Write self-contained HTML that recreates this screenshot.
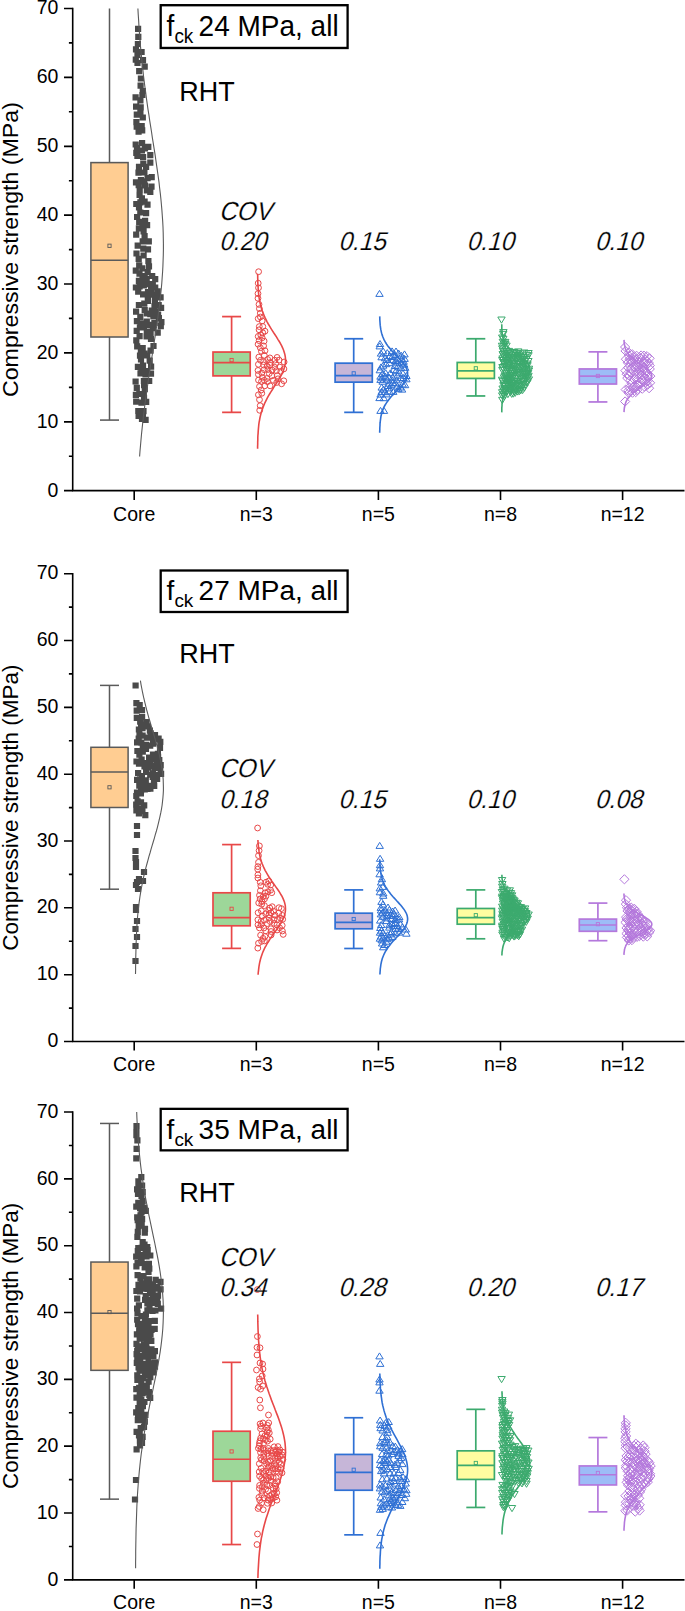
<!DOCTYPE html><html><head><meta charset="utf-8"><style>html,body{margin:0;padding:0;background:#fff;}svg{display:block;}</style></head><body>
<svg width="685" height="1611" viewBox="0 0 685 1611">
<rect width="685" height="1611" fill="#fff"/>
<g transform="translate(0 8.50) scale(1 1.03076)">
<g stroke="#5a5a5a" stroke-width="1.5" fill="none">
<path d="M109.5 149.5V0M109.5 318.7V399.3"/>
<path d="M100 399.3h19"/>
<rect x="90.9" y="149.5" width="37.2" height="169.2" fill="#FFCD92"/>
<path d="M90.9 244.2h37.2"/>
<rect x="107.9" y="228.6" width="3.2" height="3.2" stroke-width="0.9"/>
</g>
<g stroke="#E84848" stroke-width="1.7" fill="none">
<path d="M231.6 333.3V298.9M231.6 356.5V391.8"/>
<path d="M222.1 298.9h19"/>
<path d="M222.1 391.8h19"/>
<rect x="213" y="333.3" width="37.2" height="23.1" fill="#9DD799"/>
<path d="M213 343.6h37.2"/>
<rect x="230" y="339.5" width="3.2" height="3.2" stroke-width="0.9"/>
</g>
<g stroke="#2F70D4" stroke-width="1.7" fill="none">
<path d="M353.7 344.1V320.4M353.7 362.6V391.8"/>
<path d="M344.2 320.4h19"/>
<path d="M344.2 391.8h19"/>
<rect x="335.1" y="344.1" width="37.2" height="18.4" fill="#C6B6D8"/>
<path d="M335.1 356.1h37.2"/>
<rect x="352.1" y="352.4" width="3.2" height="3.2" stroke-width="0.9"/>
</g>
<g stroke="#3CAA6E" stroke-width="1.7" fill="none">
<path d="M475.8 343.4V320.4M475.8 358.9V375.9"/>
<path d="M466.3 320.4h19"/>
<path d="M466.3 375.9h19"/>
<rect x="457.2" y="343.4" width="37.2" height="15.5" fill="#FFFDA0"/>
<path d="M457.2 351.5h37.2"/>
<rect x="474.2" y="347.5" width="3.2" height="3.2" stroke-width="0.9"/>
</g>
<g stroke="#B478DC" stroke-width="1.7" fill="none">
<path d="M597.9 349.7V333.1M597.9 364.2V381.7"/>
<path d="M588.4 333.1h19"/>
<path d="M588.4 381.7h19"/>
<rect x="579.3" y="349.7" width="37.2" height="14.6" fill="#9DBCF7"/>
<path d="M579.3 356.7h37.2"/>
<rect x="596.3" y="354.9" width="3.2" height="3.2" stroke-width="0.9"/>
</g>
<g stroke="#000" stroke-width="1.6" fill="none">
<path d="M72.7 -0.8V467.8M71.9 467.8H684.5"/>
<path d="M64 467.8H72.7M64 401H72.7M64 334.1H72.7M64 267.3H72.7M64 200.5H72.7M64 133.7H72.7M64 66.8H72.7M64 0H72.7M68.9 434.4H72.7M68.9 367.6H72.7M68.9 300.7H72.7M68.9 233.9H72.7M68.9 167.1H72.7M68.9 100.2H72.7M68.9 33.4H72.7M134.2 467.8v9M256.3 467.8v9M378.4 467.8v9M500.5 467.8v9M622.6 467.8v9"/>
</g>
<g font-family="Liberation Sans" font-size="19.5" fill="#000">
<text x="58.4" y="473.5" text-anchor="end">0</text>
<text x="58.4" y="406.7" text-anchor="end">10</text>
<text x="58.4" y="339.8" text-anchor="end">20</text>
<text x="58.4" y="273" text-anchor="end">30</text>
<text x="58.4" y="206.2" text-anchor="end">40</text>
<text x="58.4" y="139.4" text-anchor="end">50</text>
<text x="58.4" y="72.5" text-anchor="end">60</text>
<text x="58.4" y="5.7" text-anchor="end">70</text>
<text x="134.2" y="497.4" text-anchor="middle">Core</text>
<text x="256.3" y="497.4" text-anchor="middle">n=3</text>
<text x="378.4" y="497.4" text-anchor="middle">n=5</text>
<text x="500.5" y="497.4" text-anchor="middle">n=8</text>
<text x="622.6" y="497.4" text-anchor="middle">n=12</text>
</g>
<text transform="translate(17.6 233.9) rotate(-90)" font-family="Liberation Sans" font-size="22.5" text-anchor="middle">Compressive strength (MPa)</text>
<rect x="160.7" y="-3.2" width="186.9" height="41.5" fill="none" stroke="#000" stroke-width="2.3"/>
<text font-family="Liberation Sans" font-size="28" x="166.6" y="26.6">f<tspan font-size="19" dy="7">ck</tspan><tspan dy="-7" x="198.6">24 MPa, all</tspan></text>
<text font-family="Liberation Sans" font-size="27" x="179.2" y="89.7">RHT</text>
</g>
<path fill="#4a4a4a" d="M141.5 232.9h6.2v6.2h-6.2zM155.6 302.1h6.2v6.2h-6.2zM143.8 310.4h6.2v6.2h-6.2zM136.6 186.8h6.2v6.2h-6.2zM152.1 284.4h6.2v6.2h-6.2zM141.5 198.5h6.2v6.2h-6.2zM132.7 56.6h6.2v6.2h-6.2zM133.9 145h6.2v6.2h-6.2zM145.6 321.7h6.2v6.2h-6.2zM147.5 330.9h6.2v6.2h-6.2zM139.9 57.1h6.2v6.2h-6.2zM144.8 297.7h6.2v6.2h-6.2zM135.2 33.8h6.2v6.2h-6.2zM139.6 238.2h6.2v6.2h-6.2zM133.6 123.5h6.2v6.2h-6.2zM136.2 390.9h6.2v6.2h-6.2zM141.2 300.5h6.2v6.2h-6.2zM144.7 293.9h6.2v6.2h-6.2zM134 213.9h6.2v6.2h-6.2zM148.6 174h6.2v6.2h-6.2zM149.1 272.9h6.2v6.2h-6.2zM137.4 370.3h6.2v6.2h-6.2zM132.8 391.8h6.2v6.2h-6.2zM133.2 200.9h6.2v6.2h-6.2zM152.1 276h6.2v6.2h-6.2zM133.6 327.7h6.2v6.2h-6.2zM141.7 386h6.2v6.2h-6.2zM141.6 307.1h6.2v6.2h-6.2zM136.1 68.1h6.2v6.2h-6.2zM137.5 320.2h6.2v6.2h-6.2zM141.6 63.5h6.2v6.2h-6.2zM151.3 319.9h6.2v6.2h-6.2zM133.1 398.6h6.2v6.2h-6.2zM147.2 311.1h6.2v6.2h-6.2zM140 154.1h6.2v6.2h-6.2zM138.9 415.9h6.2v6.2h-6.2zM142.5 416.7h6.2v6.2h-6.2zM157.5 294.2h6.2v6.2h-6.2zM135.9 204.4h6.2v6.2h-6.2zM137.3 109.5h6.2v6.2h-6.2zM136.1 262.3h6.2v6.2h-6.2zM144.6 268.9h6.2v6.2h-6.2zM146.1 377.9h6.2v6.2h-6.2zM153.5 291.8h6.2v6.2h-6.2zM139.6 345h6.2v6.2h-6.2zM144.4 201.5h6.2v6.2h-6.2zM137.8 348.3h6.2v6.2h-6.2zM138.8 195.2h6.2v6.2h-6.2zM134.4 59.9h6.2v6.2h-6.2zM133.1 231.6h6.2v6.2h-6.2zM140.2 245.5h6.2v6.2h-6.2zM139.3 91.9h6.2v6.2h-6.2zM149.8 325.1h6.2v6.2h-6.2zM135.9 163.8h6.2v6.2h-6.2zM139.4 276.6h6.2v6.2h-6.2zM149.2 291.5h6.2v6.2h-6.2zM145.7 238.3h6.2v6.2h-6.2zM143.8 187.3h6.2v6.2h-6.2zM140.8 324.4h6.2v6.2h-6.2zM135.8 277.8h6.2v6.2h-6.2zM133.8 318h6.2v6.2h-6.2zM143 163.7h6.2v6.2h-6.2zM138.8 147.4h6.2v6.2h-6.2zM147.9 370.6h6.2v6.2h-6.2zM134.1 343.3h6.2v6.2h-6.2zM158 304.7h6.2v6.2h-6.2zM141.1 178.2h6.2v6.2h-6.2zM145.2 143.8h6.2v6.2h-6.2zM132.9 179.2h6.2v6.2h-6.2zM143.9 367.9h6.2v6.2h-6.2zM140.7 282.2h6.2v6.2h-6.2zM140 291.3h6.2v6.2h-6.2zM144.9 289.1h6.2v6.2h-6.2zM133 308.6h6.2v6.2h-6.2zM138.4 366.8h6.2v6.2h-6.2zM136.1 218.7h6.2v6.2h-6.2zM132.6 141.4h6.2v6.2h-6.2zM143.5 333.3h6.2v6.2h-6.2zM136.5 333h6.2v6.2h-6.2zM136.5 191.8h6.2v6.2h-6.2zM137.5 82.6h6.2v6.2h-6.2zM157.7 323.1h6.2v6.2h-6.2zM145.9 263.2h6.2v6.2h-6.2zM133.2 149.7h6.2v6.2h-6.2zM136.5 283.2h6.2v6.2h-6.2zM133.4 250.4h6.2v6.2h-6.2zM152 308.4h6.2v6.2h-6.2zM137.3 199.3h6.2v6.2h-6.2zM145.3 258h6.2v6.2h-6.2zM137.6 104.3h6.2v6.2h-6.2zM143.6 275.8h6.2v6.2h-6.2zM139 140.1h6.2v6.2h-6.2zM148.4 183.5h6.2v6.2h-6.2zM148 284.2h6.2v6.2h-6.2zM133.3 119h6.2v6.2h-6.2zM139.7 87.9h6.2v6.2h-6.2zM135.2 407.9h6.2v6.2h-6.2zM139.2 265.3h6.2v6.2h-6.2zM146.6 357.6h6.2v6.2h-6.2zM135.5 412.8h6.2v6.2h-6.2zM141.9 145.2h6.2v6.2h-6.2zM138.4 399.5h6.2v6.2h-6.2zM141.3 169.4h6.2v6.2h-6.2zM139.8 411.7h6.2v6.2h-6.2zM143.1 398.7h6.2v6.2h-6.2zM138.5 48.9h6.2v6.2h-6.2zM139.1 127.2h6.2v6.2h-6.2zM144.1 352.4h6.2v6.2h-6.2zM149.7 281h6.2v6.2h-6.2zM135.6 255.7h6.2v6.2h-6.2zM135.8 225.3h6.2v6.2h-6.2zM141.2 350.4h6.2v6.2h-6.2zM155 311.6h6.2v6.2h-6.2zM141.6 273h6.2v6.2h-6.2zM134.8 40.9h6.2v6.2h-6.2zM144 222.1h6.2v6.2h-6.2zM143.7 318.6h6.2v6.2h-6.2zM158.3 319.1h6.2v6.2h-6.2zM140.9 394.8h6.2v6.2h-6.2zM133.2 337.2h6.2v6.2h-6.2zM137.3 97.2h6.2v6.2h-6.2zM140.8 377.9h6.2v6.2h-6.2zM155.8 315h6.2v6.2h-6.2zM136.8 324.4h6.2v6.2h-6.2zM135.1 288.6h6.2v6.2h-6.2zM140.7 390.9h6.2v6.2h-6.2zM132.5 94.2h6.2v6.2h-6.2zM140.2 160.8h6.2v6.2h-6.2zM140.5 228.3h6.2v6.2h-6.2zM147.2 159.6h6.2v6.2h-6.2zM136.4 270.5h6.2v6.2h-6.2zM135.6 182.1h6.2v6.2h-6.2zM148.2 288.2h6.2v6.2h-6.2zM139.3 222.7h6.2v6.2h-6.2zM147.5 347.6h6.2v6.2h-6.2zM137.2 209.4h6.2v6.2h-6.2zM137.8 177h6.2v6.2h-6.2zM135.5 128.5h6.2v6.2h-6.2zM148 363.6h6.2v6.2h-6.2zM141 382.1h6.2v6.2h-6.2zM150.4 342.9h6.2v6.2h-6.2zM143.7 328.5h6.2v6.2h-6.2zM132.9 46.2h6.2v6.2h-6.2zM136.9 352.6h6.2v6.2h-6.2zM140.4 408h6.2v6.2h-6.2zM142 217.8h6.2v6.2h-6.2zM133 103.6h6.2v6.2h-6.2zM137.2 313.8h6.2v6.2h-6.2zM139.9 362.4h6.2v6.2h-6.2zM138.6 122.9h6.2v6.2h-6.2zM144.9 246.3h6.2v6.2h-6.2zM134.8 363.8h6.2v6.2h-6.2zM133.7 384.8h6.2v6.2h-6.2zM132.5 378.4h6.2v6.2h-6.2zM135.4 169.5h6.2v6.2h-6.2zM137.8 75.4h6.2v6.2h-6.2zM145.3 281.1h6.2v6.2h-6.2zM134.4 51.8h6.2v6.2h-6.2zM144.5 175h6.2v6.2h-6.2zM147.2 152h6.2v6.2h-6.2zM134.6 242.5h6.2v6.2h-6.2zM154.6 288.2h6.2v6.2h-6.2zM147.2 188.7h6.2v6.2h-6.2zM141.9 182.4h6.2v6.2h-6.2zM134.3 152.9h6.2v6.2h-6.2zM132.8 284.4h6.2v6.2h-6.2zM135.8 301.9h6.2v6.2h-6.2zM132.7 267.6h6.2v6.2h-6.2zM133.7 111.6h6.2v6.2h-6.2zM148.7 307.4h6.2v6.2h-6.2zM137.9 356.3h6.2v6.2h-6.2zM140.5 252.4h6.2v6.2h-6.2zM143 210.1h6.2v6.2h-6.2zM154.6 329.6h6.2v6.2h-6.2zM147.9 335.9h6.2v6.2h-6.2zM150.3 313.2h6.2v6.2h-6.2zM151.8 297.7h6.2v6.2h-6.2zM142.4 371.3h6.2v6.2h-6.2zM151.4 302.9h6.2v6.2h-6.2zM139.7 114.4h6.2v6.2h-6.2zM135 25.7h6.2v6.2h-6.2z"/>
<path fill="none" stroke="#E84848" stroke-width="1" d="M267 357.9a2.9 2.9 0 1 0 5.8 0a2.9 2.9 0 1 0 -5.8 0M255.5 364.3a2.9 2.9 0 1 0 5.8 0a2.9 2.9 0 1 0 -5.8 0M274.2 357.4a2.9 2.9 0 1 0 5.8 0a2.9 2.9 0 1 0 -5.8 0M260.7 345.9a2.9 2.9 0 1 0 5.8 0a2.9 2.9 0 1 0 -5.8 0M261.9 385.8a2.9 2.9 0 1 0 5.8 0a2.9 2.9 0 1 0 -5.8 0M257.5 317a2.9 2.9 0 1 0 5.8 0a2.9 2.9 0 1 0 -5.8 0M258.5 351.3a2.9 2.9 0 1 0 5.8 0a2.9 2.9 0 1 0 -5.8 0M261.4 380.3a2.9 2.9 0 1 0 5.8 0a2.9 2.9 0 1 0 -5.8 0M256.6 399.7a2.9 2.9 0 1 0 5.8 0a2.9 2.9 0 1 0 -5.8 0M255.5 394.8a2.9 2.9 0 1 0 5.8 0a2.9 2.9 0 1 0 -5.8 0M276.9 367.1a2.9 2.9 0 1 0 5.8 0a2.9 2.9 0 1 0 -5.8 0M280.9 380.8a2.9 2.9 0 1 0 5.8 0a2.9 2.9 0 1 0 -5.8 0M260.8 361.6a2.9 2.9 0 1 0 5.8 0a2.9 2.9 0 1 0 -5.8 0M275.1 378.8a2.9 2.9 0 1 0 5.8 0a2.9 2.9 0 1 0 -5.8 0M256.1 304.4a2.9 2.9 0 1 0 5.8 0a2.9 2.9 0 1 0 -5.8 0M255.3 336.4a2.9 2.9 0 1 0 5.8 0a2.9 2.9 0 1 0 -5.8 0M256.2 329.8a2.9 2.9 0 1 0 5.8 0a2.9 2.9 0 1 0 -5.8 0M256.5 308.7a2.9 2.9 0 1 0 5.8 0a2.9 2.9 0 1 0 -5.8 0M256.2 340.6a2.9 2.9 0 1 0 5.8 0a2.9 2.9 0 1 0 -5.8 0M271.8 360.2a2.9 2.9 0 1 0 5.8 0a2.9 2.9 0 1 0 -5.8 0M266.4 373.5a2.9 2.9 0 1 0 5.8 0a2.9 2.9 0 1 0 -5.8 0M274.4 375.6a2.9 2.9 0 1 0 5.8 0a2.9 2.9 0 1 0 -5.8 0M255.3 318.6a2.9 2.9 0 1 0 5.8 0a2.9 2.9 0 1 0 -5.8 0M257.6 360.3a2.9 2.9 0 1 0 5.8 0a2.9 2.9 0 1 0 -5.8 0M278.7 383.8a2.9 2.9 0 1 0 5.8 0a2.9 2.9 0 1 0 -5.8 0M257.4 347.7a2.9 2.9 0 1 0 5.8 0a2.9 2.9 0 1 0 -5.8 0M264.8 359.5a2.9 2.9 0 1 0 5.8 0a2.9 2.9 0 1 0 -5.8 0M262.1 350.7a2.9 2.9 0 1 0 5.8 0a2.9 2.9 0 1 0 -5.8 0M264.3 366.2a2.9 2.9 0 1 0 5.8 0a2.9 2.9 0 1 0 -5.8 0M255.1 293.6a2.9 2.9 0 1 0 5.8 0a2.9 2.9 0 1 0 -5.8 0M281 368.9a2.9 2.9 0 1 0 5.8 0a2.9 2.9 0 1 0 -5.8 0M270.5 380.3a2.9 2.9 0 1 0 5.8 0a2.9 2.9 0 1 0 -5.8 0M271.8 367.3a2.9 2.9 0 1 0 5.8 0a2.9 2.9 0 1 0 -5.8 0M261.3 369.7a2.9 2.9 0 1 0 5.8 0a2.9 2.9 0 1 0 -5.8 0M267.2 385.8a2.9 2.9 0 1 0 5.8 0a2.9 2.9 0 1 0 -5.8 0M257.4 313.2a2.9 2.9 0 1 0 5.8 0a2.9 2.9 0 1 0 -5.8 0M267 365.1a2.9 2.9 0 1 0 5.8 0a2.9 2.9 0 1 0 -5.8 0M256.8 410.3a2.9 2.9 0 1 0 5.8 0a2.9 2.9 0 1 0 -5.8 0M262.1 331.2a2.9 2.9 0 1 0 5.8 0a2.9 2.9 0 1 0 -5.8 0M265.1 369.5a2.9 2.9 0 1 0 5.8 0a2.9 2.9 0 1 0 -5.8 0M267.4 362.5a2.9 2.9 0 1 0 5.8 0a2.9 2.9 0 1 0 -5.8 0M259.9 326.5a2.9 2.9 0 1 0 5.8 0a2.9 2.9 0 1 0 -5.8 0M259.9 332.8a2.9 2.9 0 1 0 5.8 0a2.9 2.9 0 1 0 -5.8 0M255.9 357.1a2.9 2.9 0 1 0 5.8 0a2.9 2.9 0 1 0 -5.8 0M256.4 326.6a2.9 2.9 0 1 0 5.8 0a2.9 2.9 0 1 0 -5.8 0M264 378.5a2.9 2.9 0 1 0 5.8 0a2.9 2.9 0 1 0 -5.8 0M258.9 373a2.9 2.9 0 1 0 5.8 0a2.9 2.9 0 1 0 -5.8 0M269 375.9a2.9 2.9 0 1 0 5.8 0a2.9 2.9 0 1 0 -5.8 0M261.2 341.1a2.9 2.9 0 1 0 5.8 0a2.9 2.9 0 1 0 -5.8 0M255.3 283.2a2.9 2.9 0 1 0 5.8 0a2.9 2.9 0 1 0 -5.8 0M276.2 360.1a2.9 2.9 0 1 0 5.8 0a2.9 2.9 0 1 0 -5.8 0M256.6 386.5a2.9 2.9 0 1 0 5.8 0a2.9 2.9 0 1 0 -5.8 0M255.6 380.1a2.9 2.9 0 1 0 5.8 0a2.9 2.9 0 1 0 -5.8 0M260.7 365a2.9 2.9 0 1 0 5.8 0a2.9 2.9 0 1 0 -5.8 0M273.5 370.7a2.9 2.9 0 1 0 5.8 0a2.9 2.9 0 1 0 -5.8 0M255.6 287.8a2.9 2.9 0 1 0 5.8 0a2.9 2.9 0 1 0 -5.8 0M277.9 371.3a2.9 2.9 0 1 0 5.8 0a2.9 2.9 0 1 0 -5.8 0M264.6 381.7a2.9 2.9 0 1 0 5.8 0a2.9 2.9 0 1 0 -5.8 0M259.5 377.3a2.9 2.9 0 1 0 5.8 0a2.9 2.9 0 1 0 -5.8 0M259.3 320.9a2.9 2.9 0 1 0 5.8 0a2.9 2.9 0 1 0 -5.8 0M257.9 335a2.9 2.9 0 1 0 5.8 0a2.9 2.9 0 1 0 -5.8 0M258.3 390a2.9 2.9 0 1 0 5.8 0a2.9 2.9 0 1 0 -5.8 0M258.9 393.3a2.9 2.9 0 1 0 5.8 0a2.9 2.9 0 1 0 -5.8 0M269.2 370.1a2.9 2.9 0 1 0 5.8 0a2.9 2.9 0 1 0 -5.8 0M281.2 362a2.9 2.9 0 1 0 5.8 0a2.9 2.9 0 1 0 -5.8 0M273.8 382.5a2.9 2.9 0 1 0 5.8 0a2.9 2.9 0 1 0 -5.8 0M255.1 298.3a2.9 2.9 0 1 0 5.8 0a2.9 2.9 0 1 0 -5.8 0M272.7 363.6a2.9 2.9 0 1 0 5.8 0a2.9 2.9 0 1 0 -5.8 0M259.3 337.8a2.9 2.9 0 1 0 5.8 0a2.9 2.9 0 1 0 -5.8 0M255.1 370.4a2.9 2.9 0 1 0 5.8 0a2.9 2.9 0 1 0 -5.8 0M255.2 344.2a2.9 2.9 0 1 0 5.8 0a2.9 2.9 0 1 0 -5.8 0M255.5 374.5a2.9 2.9 0 1 0 5.8 0a2.9 2.9 0 1 0 -5.8 0M261.4 355.3a2.9 2.9 0 1 0 5.8 0a2.9 2.9 0 1 0 -5.8 0M257.3 405.7a2.9 2.9 0 1 0 5.8 0a2.9 2.9 0 1 0 -5.8 0M255.7 271.7a2.9 2.9 0 1 0 5.8 0a2.9 2.9 0 1 0 -5.8 0M258.6 381.5a2.9 2.9 0 1 0 5.8 0a2.9 2.9 0 1 0 -5.8 0"/>
<path fill="none" stroke="#2F70D4" stroke-width="1" d="M394.9 362.5l3.7 6h-7.4zM391.4 381.7l3.7 6h-7.4zM392.8 379.6l3.7 6h-7.4zM404.2 361.2l3.7 6h-7.4zM390.3 369.8l3.7 6h-7.4zM386.5 390.9l3.7 6h-7.4zM389.1 384.9l3.7 6h-7.4zM386.8 376.1l3.7 6h-7.4zM385 354.8l3.7 6h-7.4zM393.2 388.4l3.7 6h-7.4zM395.6 357.5l3.7 6h-7.4zM383.6 386l3.7 6h-7.4zM397.4 372.2l3.7 6h-7.4zM405.2 364.3l3.7 6h-7.4zM400.4 384l3.7 6h-7.4zM385.7 369.7l3.7 6h-7.4zM393 356.7l3.7 6h-7.4zM382.4 374.8l3.7 6h-7.4zM396.7 376.8l3.7 6h-7.4zM380.6 391.1l3.7 6h-7.4zM383.2 362.2l3.7 6h-7.4zM403.6 374.5l3.7 6h-7.4zM402.9 370.1l3.7 6h-7.4zM395.3 379.8l3.7 6h-7.4zM392.7 374l3.7 6h-7.4zM402.6 380.9l3.7 6h-7.4zM393.7 366.4l3.7 6h-7.4zM384 407.4l3.7 6h-7.4zM401 364.3l3.7 6h-7.4zM381.6 353.8l3.7 6h-7.4zM402.1 386.1l3.7 6h-7.4zM379.5 394.6l3.7 6h-7.4zM380.5 376.4l3.7 6h-7.4zM405.1 381.7l3.7 6h-7.4zM382.6 370.3l3.7 6h-7.4zM392.1 347.9l3.7 6h-7.4zM403.6 358.2l3.7 6h-7.4zM398.3 385.7l3.7 6h-7.4zM395.2 351.6l3.7 6h-7.4zM387.3 349.6l3.7 6h-7.4zM401.5 356.1l3.7 6h-7.4zM386.1 360.7l3.7 6h-7.4zM380.5 407.4l3.7 6h-7.4zM383.2 347.9l3.7 6h-7.4zM400.5 374.8l3.7 6h-7.4zM385.4 373.1l3.7 6h-7.4zM397.4 355.8l3.7 6h-7.4zM398.6 350l3.7 6h-7.4zM381 363.9l3.7 6h-7.4zM406.4 375.8l3.7 6h-7.4zM381.7 384.1l3.7 6h-7.4zM397.5 359.1l3.7 6h-7.4zM389.3 359.7l3.7 6h-7.4zM389.4 388.1l3.7 6h-7.4zM401.4 359.9l3.7 6h-7.4zM383.8 394.7l3.7 6h-7.4zM396 367.7l3.7 6h-7.4zM380.5 373.2l3.7 6h-7.4zM392.1 353.5l3.7 6h-7.4zM389.7 352.6l3.7 6h-7.4zM392.3 377.1l3.7 6h-7.4zM381 350.1l3.7 6h-7.4zM404.6 355.4l3.7 6h-7.4zM384.9 388.7l3.7 6h-7.4zM380 340.5l3.7 6h-7.4zM401.5 352.3l3.7 6h-7.4zM397.9 363l3.7 6h-7.4zM381.6 388.4l3.7 6h-7.4zM379.7 342.9l3.7 6h-7.4zM382.6 378.2l3.7 6h-7.4zM386.8 356.5l3.7 6h-7.4zM406.4 372.5l3.7 6h-7.4zM388.6 380.2l3.7 6h-7.4zM397.4 383.1l3.7 6h-7.4zM404.5 350.9l3.7 6h-7.4zM379.8 366.8l3.7 6h-7.4zM396 348l3.7 6h-7.4zM388.1 382.5l3.7 6h-7.4zM379.5 290.4l3.7 6h-7.4zM399.3 369.8l3.7 6h-7.4zM389.1 374.1l3.7 6h-7.4z"/>
<path fill="none" stroke="#3CAA6E" stroke-width="1" d="M525.2 388l3.7 -6.2h-7.4zM504.8 389.6l3.7 -6.2h-7.4zM502.3 403.5l3.7 -6.2h-7.4zM527.5 368.9l3.7 -6.2h-7.4zM509.4 386.1l3.7 -6.2h-7.4zM508.3 372.6l3.7 -6.2h-7.4zM526.3 362.7l3.7 -6.2h-7.4zM517.5 358.7l3.7 -6.2h-7.4zM502.1 383.4l3.7 -6.2h-7.4zM502.6 392.2l3.7 -6.2h-7.4zM518.2 355.1l3.7 -6.2h-7.4zM529 372.4l3.7 -6.2h-7.4zM513.9 386.7l3.7 -6.2h-7.4zM508.3 389.6l3.7 -6.2h-7.4zM523.5 384.9l3.7 -6.2h-7.4zM506.2 376.9l3.7 -6.2h-7.4zM519.2 379.1l3.7 -6.2h-7.4zM507.9 397.7l3.7 -6.2h-7.4zM506.2 365.9l3.7 -6.2h-7.4zM517.2 373.4l3.7 -6.2h-7.4zM506.9 356.6l3.7 -6.2h-7.4zM508.6 366.8l3.7 -6.2h-7.4zM502.7 357.8l3.7 -6.2h-7.4zM510.6 394l3.7 -6.2h-7.4zM526.3 358.3l3.7 -6.2h-7.4zM506.5 372.9l3.7 -6.2h-7.4zM512.9 364.4l3.7 -6.2h-7.4zM513.3 397.2l3.7 -6.2h-7.4zM523.5 387.6l3.7 -6.2h-7.4zM518.3 392.4l3.7 -6.2h-7.4zM514.3 367.2l3.7 -6.2h-7.4zM513.8 369.4l3.7 -6.2h-7.4zM514.1 395.1l3.7 -6.2h-7.4zM522.6 377.7l3.7 -6.2h-7.4zM504.8 379.5l3.7 -6.2h-7.4zM515.4 362.3l3.7 -6.2h-7.4zM507.7 387.5l3.7 -6.2h-7.4zM506.6 382.5l3.7 -6.2h-7.4zM521.8 360.4l3.7 -6.2h-7.4zM528.5 358.9l3.7 -6.2h-7.4zM517.8 387.1l3.7 -6.2h-7.4zM509 354.6l3.7 -6.2h-7.4zM507.7 368.5l3.7 -6.2h-7.4zM503.8 349.6l3.7 -6.2h-7.4zM515.9 382.1l3.7 -6.2h-7.4zM511.7 397.4l3.7 -6.2h-7.4zM503.8 347.1l3.7 -6.2h-7.4zM514.2 355.7l3.7 -6.2h-7.4zM515.6 392.3l3.7 -6.2h-7.4zM524.4 366.4l3.7 -6.2h-7.4zM527.9 380.8l3.7 -6.2h-7.4zM505.3 347.5l3.7 -6.2h-7.4zM514.2 376.2l3.7 -6.2h-7.4zM503.5 388.9l3.7 -6.2h-7.4zM502.2 399.1l3.7 -6.2h-7.4zM510.3 395.5l3.7 -6.2h-7.4zM516.6 356.6l3.7 -6.2h-7.4zM504.4 361l3.7 -6.2h-7.4zM505.6 396.2l3.7 -6.2h-7.4zM519.6 359.6l3.7 -6.2h-7.4zM503.2 337.6l3.7 -6.2h-7.4zM501.5 323.2l3.7 -6.2h-7.4zM526.3 380.1l3.7 -6.2h-7.4zM523.4 370.9l3.7 -6.2h-7.4zM523.5 360.7l3.7 -6.2h-7.4zM504.5 369.7l3.7 -6.2h-7.4zM518.9 384.3l3.7 -6.2h-7.4zM510.9 391.7l3.7 -6.2h-7.4zM510.9 365.2l3.7 -6.2h-7.4zM518.1 389.6l3.7 -6.2h-7.4zM511.3 378.6l3.7 -6.2h-7.4zM521 365.2l3.7 -6.2h-7.4zM506.3 380.4l3.7 -6.2h-7.4zM509.8 358.2l3.7 -6.2h-7.4zM503.3 342.5l3.7 -6.2h-7.4zM518.9 362.1l3.7 -6.2h-7.4zM520.4 372.2l3.7 -6.2h-7.4zM506.6 378.5l3.7 -6.2h-7.4zM511.5 388.6l3.7 -6.2h-7.4zM502 349.4l3.7 -6.2h-7.4zM523.5 381.5l3.7 -6.2h-7.4zM526.1 378.1l3.7 -6.2h-7.4zM508.7 370.4l3.7 -6.2h-7.4zM528.1 376.8l3.7 -6.2h-7.4zM512.8 374.6l3.7 -6.2h-7.4zM503.7 394.3l3.7 -6.2h-7.4zM503.4 335.8l3.7 -6.2h-7.4zM516.1 376.1l3.7 -6.2h-7.4zM520.8 388.8l3.7 -6.2h-7.4zM502.4 373.6l3.7 -6.2h-7.4zM507.7 385.6l3.7 -6.2h-7.4zM523.8 376l3.7 -6.2h-7.4zM502.2 341.2l3.7 -6.2h-7.4zM526.2 372.8l3.7 -6.2h-7.4zM509.9 382.4l3.7 -6.2h-7.4zM528.5 379.4l3.7 -6.2h-7.4zM511.4 369.1l3.7 -6.2h-7.4zM519.2 375.9l3.7 -6.2h-7.4zM517.2 362.1l3.7 -6.2h-7.4zM511.8 390.4l3.7 -6.2h-7.4zM527.4 367.3l3.7 -6.2h-7.4zM503.8 359.3l3.7 -6.2h-7.4zM504.7 391.8l3.7 -6.2h-7.4zM507.9 383.3l3.7 -6.2h-7.4zM510.9 376.9l3.7 -6.2h-7.4zM528.9 383.1l3.7 -6.2h-7.4zM528.5 356.7l3.7 -6.2h-7.4zM528.4 364.7l3.7 -6.2h-7.4zM505.2 384.5l3.7 -6.2h-7.4zM505.8 363.6l3.7 -6.2h-7.4zM519.7 370.9l3.7 -6.2h-7.4zM523.8 367.8l3.7 -6.2h-7.4zM516.1 394.2l3.7 -6.2h-7.4zM522 369.9l3.7 -6.2h-7.4zM522.3 375.1l3.7 -6.2h-7.4zM502.8 345.4l3.7 -6.2h-7.4zM525.5 376.2l3.7 -6.2h-7.4zM504 356.3l3.7 -6.2h-7.4zM514.8 373.6l3.7 -6.2h-7.4zM509.4 391.8l3.7 -6.2h-7.4zM511.2 371.3l3.7 -6.2h-7.4zM509.8 379.2l3.7 -6.2h-7.4zM514.1 372.2l3.7 -6.2h-7.4zM502.5 370.7l3.7 -6.2h-7.4zM506.5 349.3l3.7 -6.2h-7.4zM513.7 391.1l3.7 -6.2h-7.4zM523.3 362.5l3.7 -6.2h-7.4zM524.9 364.7l3.7 -6.2h-7.4zM511.3 374.5l3.7 -6.2h-7.4zM507.1 371.2l3.7 -6.2h-7.4zM515.2 396.4l3.7 -6.2h-7.4zM517.8 395.1l3.7 -6.2h-7.4zM509.1 361.9l3.7 -6.2h-7.4zM511.2 360.8l3.7 -6.2h-7.4zM522.4 389.3l3.7 -6.2h-7.4zM527.5 384.2l3.7 -6.2h-7.4zM518.7 369.4l3.7 -6.2h-7.4zM502.3 363.7l3.7 -6.2h-7.4zM510.1 387.9l3.7 -6.2h-7.4zM512.9 366.9l3.7 -6.2h-7.4zM502.3 352.1l3.7 -6.2h-7.4zM503.8 387.1l3.7 -6.2h-7.4zM520.5 357l3.7 -6.2h-7.4zM520.8 393.8l3.7 -6.2h-7.4zM517 379.3l3.7 -6.2h-7.4zM508.6 359.4l3.7 -6.2h-7.4zM510.4 356l3.7 -6.2h-7.4zM507.7 363.4l3.7 -6.2h-7.4zM510.1 383.9l3.7 -6.2h-7.4zM506.3 354.6l3.7 -6.2h-7.4zM515.6 369.8l3.7 -6.2h-7.4zM527.4 386.1l3.7 -6.2h-7.4zM512.5 381.6l3.7 -6.2h-7.4zM520.3 381.1l3.7 -6.2h-7.4zM503.7 397.5l3.7 -6.2h-7.4zM503 354.5l3.7 -6.2h-7.4zM524.3 356.2l3.7 -6.2h-7.4zM516.9 384.8l3.7 -6.2h-7.4zM520.3 363.5l3.7 -6.2h-7.4zM525.5 369.5l3.7 -6.2h-7.4zM509.6 363.3l3.7 -6.2h-7.4zM511.9 386.1l3.7 -6.2h-7.4zM503.3 372.1l3.7 -6.2h-7.4zM525.8 381.7l3.7 -6.2h-7.4zM512.4 362l3.7 -6.2h-7.4zM504.4 399.7l3.7 -6.2h-7.4zM513.8 378.8l3.7 -6.2h-7.4zM521.5 362.4l3.7 -6.2h-7.4zM515.4 358.1l3.7 -6.2h-7.4zM502.2 395.9l3.7 -6.2h-7.4zM520.1 367.5l3.7 -6.2h-7.4zM515.8 388.5l3.7 -6.2h-7.4zM506.9 358.6l3.7 -6.2h-7.4zM518.4 366.2l3.7 -6.2h-7.4zM507.9 381.6l3.7 -6.2h-7.4zM505.2 345.6l3.7 -6.2h-7.4zM509.8 374.2l3.7 -6.2h-7.4zM522.6 393.6l3.7 -6.2h-7.4zM521.9 384.7l3.7 -6.2h-7.4zM521.4 391l3.7 -6.2h-7.4zM521.8 383.1l3.7 -6.2h-7.4zM518.5 377.7l3.7 -6.2h-7.4zM505 393.3l3.7 -6.2h-7.4zM503.5 365.7l3.7 -6.2h-7.4zM513 393.5l3.7 -6.2h-7.4zM502.6 362.1l3.7 -6.2h-7.4zM502.7 384.9l3.7 -6.2h-7.4zM506.5 392.2l3.7 -6.2h-7.4zM504.4 367l3.7 -6.2h-7.4zM524.4 391.3l3.7 -6.2h-7.4zM513.9 360.7l3.7 -6.2h-7.4zM524.7 373.4l3.7 -6.2h-7.4zM519.5 394.6l3.7 -6.2h-7.4zM514 384.9l3.7 -6.2h-7.4zM510.5 380.7l3.7 -6.2h-7.4zM528.9 374.2l3.7 -6.2h-7.4zM518.3 360.7l3.7 -6.2h-7.4zM504 381.1l3.7 -6.2h-7.4z"/>
<path fill="none" stroke="#B478DC" stroke-width="1" d="M644.7 372.7l4.6 4.6l-4.6 4.6l-4.6 -4.6zM644.5 381.9l4.6 4.6l-4.6 4.6l-4.6 -4.6zM627.8 358.1l4.6 4.6l-4.6 4.6l-4.6 -4.6zM636.6 351.2l4.6 4.6l-4.6 4.6l-4.6 -4.6zM640.2 360.8l4.6 4.6l-4.6 4.6l-4.6 -4.6zM631.2 364.3l4.6 4.6l-4.6 4.6l-4.6 -4.6zM633.9 355.2l4.6 4.6l-4.6 4.6l-4.6 -4.6zM628.1 363l4.6 4.6l-4.6 4.6l-4.6 -4.6zM631.5 378.6l4.6 4.6l-4.6 4.6l-4.6 -4.6zM643.7 358.4l4.6 4.6l-4.6 4.6l-4.6 -4.6zM627.3 373.5l4.6 4.6l-4.6 4.6l-4.6 -4.6zM642.3 384.1l4.6 4.6l-4.6 4.6l-4.6 -4.6zM649.1 383.6l4.6 4.6l-4.6 4.6l-4.6 -4.6zM625.4 366l4.6 4.6l-4.6 4.6l-4.6 -4.6zM629.4 382.8l4.6 4.6l-4.6 4.6l-4.6 -4.6zM634.1 374.8l4.6 4.6l-4.6 4.6l-4.6 -4.6zM626.7 369.6l4.6 4.6l-4.6 4.6l-4.6 -4.6zM647 356.8l4.6 4.6l-4.6 4.6l-4.6 -4.6zM639.7 358.3l4.6 4.6l-4.6 4.6l-4.6 -4.6zM642.9 365.3l4.6 4.6l-4.6 4.6l-4.6 -4.6zM630.8 358.8l4.6 4.6l-4.6 4.6l-4.6 -4.6zM628.8 370.6l4.6 4.6l-4.6 4.6l-4.6 -4.6zM638.3 378.8l4.6 4.6l-4.6 4.6l-4.6 -4.6zM629.6 354.6l4.6 4.6l-4.6 4.6l-4.6 -4.6zM644 351.1l4.6 4.6l-4.6 4.6l-4.6 -4.6zM637.1 385.5l4.6 4.6l-4.6 4.6l-4.6 -4.6zM640.8 377.5l4.6 4.6l-4.6 4.6l-4.6 -4.6zM641.2 367.9l4.6 4.6l-4.6 4.6l-4.6 -4.6zM635.2 383.5l4.6 4.6l-4.6 4.6l-4.6 -4.6zM647 351.6l4.6 4.6l-4.6 4.6l-4.6 -4.6zM650.1 378.2l4.6 4.6l-4.6 4.6l-4.6 -4.6zM625.5 346.3l4.6 4.6l-4.6 4.6l-4.6 -4.6zM645.7 369.2l4.6 4.6l-4.6 4.6l-4.6 -4.6zM642.2 374.7l4.6 4.6l-4.6 4.6l-4.6 -4.6zM634.8 362.7l4.6 4.6l-4.6 4.6l-4.6 -4.6zM640.5 353.4l4.6 4.6l-4.6 4.6l-4.6 -4.6zM645.1 354.8l4.6 4.6l-4.6 4.6l-4.6 -4.6zM635.9 366.3l4.6 4.6l-4.6 4.6l-4.6 -4.6zM632.8 383.4l4.6 4.6l-4.6 4.6l-4.6 -4.6zM636.7 355.1l4.6 4.6l-4.6 4.6l-4.6 -4.6zM650.3 371.5l4.6 4.6l-4.6 4.6l-4.6 -4.6zM636 360.3l4.6 4.6l-4.6 4.6l-4.6 -4.6zM647.6 380.2l4.6 4.6l-4.6 4.6l-4.6 -4.6zM646.8 371.6l4.6 4.6l-4.6 4.6l-4.6 -4.6zM635.7 387.5l4.6 4.6l-4.6 4.6l-4.6 -4.6zM636 369.6l4.6 4.6l-4.6 4.6l-4.6 -4.6zM628.8 388.3l4.6 4.6l-4.6 4.6l-4.6 -4.6zM638 381l4.6 4.6l-4.6 4.6l-4.6 -4.6zM649.6 353.7l4.6 4.6l-4.6 4.6l-4.6 -4.6zM639.4 366.1l4.6 4.6l-4.6 4.6l-4.6 -4.6zM629 351.4l4.6 4.6l-4.6 4.6l-4.6 -4.6zM633.2 352.4l4.6 4.6l-4.6 4.6l-4.6 -4.6zM625.1 342.4l4.6 4.6l-4.6 4.6l-4.6 -4.6zM649.8 364.4l4.6 4.6l-4.6 4.6l-4.6 -4.6zM636.9 358.2l4.6 4.6l-4.6 4.6l-4.6 -4.6zM631.5 355.8l4.6 4.6l-4.6 4.6l-4.6 -4.6zM639.6 369.6l4.6 4.6l-4.6 4.6l-4.6 -4.6zM634.9 381.1l4.6 4.6l-4.6 4.6l-4.6 -4.6zM625.1 396.9l4.6 4.6l-4.6 4.6l-4.6 -4.6zM637 375l4.6 4.6l-4.6 4.6l-4.6 -4.6zM630.4 368.1l4.6 4.6l-4.6 4.6l-4.6 -4.6zM636.4 372.4l4.6 4.6l-4.6 4.6l-4.6 -4.6zM644 376.7l4.6 4.6l-4.6 4.6l-4.6 -4.6zM642.6 362.8l4.6 4.6l-4.6 4.6l-4.6 -4.6zM629.1 348.2l4.6 4.6l-4.6 4.6l-4.6 -4.6zM648.8 358.4l4.6 4.6l-4.6 4.6l-4.6 -4.6zM625.9 354.6l4.6 4.6l-4.6 4.6l-4.6 -4.6zM632.3 349.7l4.6 4.6l-4.6 4.6l-4.6 -4.6zM641.1 350.9l4.6 4.6l-4.6 4.6l-4.6 -4.6zM628.3 386.1l4.6 4.6l-4.6 4.6l-4.6 -4.6zM625.7 385l4.6 4.6l-4.6 4.6l-4.6 -4.6zM645.8 366.9l4.6 4.6l-4.6 4.6l-4.6 -4.6zM647.1 376.8l4.6 4.6l-4.6 4.6l-4.6 -4.6zM638.5 364l4.6 4.6l-4.6 4.6l-4.6 -4.6zM632.5 388.1l4.6 4.6l-4.6 4.6l-4.6 -4.6zM641.6 370.6l4.6 4.6l-4.6 4.6l-4.6 -4.6zM630.6 375.7l4.6 4.6l-4.6 4.6l-4.6 -4.6zM637.9 361.8l4.6 4.6l-4.6 4.6l-4.6 -4.6zM649.8 361l4.6 4.6l-4.6 4.6l-4.6 -4.6zM646.6 360.2l4.6 4.6l-4.6 4.6l-4.6 -4.6z"/>
<g transform="translate(0 8.50) scale(1 1.03076)">
<path fill="none" stroke="#5a5a5a" stroke-width="1.1" d="M139.6 434.7L140 429.3L140.5 423.9L141 418.4L141.5 413L142.1 407.6L142.7 402.1L143.3 396.7L144 391.3L144.7 385.8L145.4 380.4L146.2 375L147 369.5L147.8 364.1L148.6 358.7L149.5 353.2L150.3 347.8L151.2 342.3L152.1 336.9L153 331.5L153.8 326L154.7 320.6L155.6 315.2L156.4 309.7L157.2 304.3L158 298.9L158.7 293.4L159.5 288L160.1 282.6L160.7 277.1L161.3 271.7L161.8 266.3L162.2 260.8L162.6 255.4L162.9 250L163.1 244.5L163.3 239.1L163.4 233.7L163.4 228.2L163.3 222.8L163.2 217.4L163 211.9L162.7 206.5L162.3 201.1L161.9 195.6L161.4 190.2L160.9 184.8L160.3 179.3L159.6 173.9L159 168.5L158.2 163L157.4 157.6L156.6 152.2L155.8 146.7L155 141.3L154.1 135.9L153.2 130.4L152.3 125L151.5 119.6L150.6 114.1L149.7 108.7L148.9 103.2L148 97.8L147.2 92.4L146.4 86.9L145.7 81.5L144.9 76.1L144.2 70.6L143.5 65.2L142.9 59.8L142.3 54.3L141.7 48.9L141.2 43.5L140.6 38L140.2 32.6L139.7 27.2L139.3 21.7L138.9 16.3L138.6 10.9L138.2 5.4L137.9 0"/>
<path fill="none" stroke="#E84848" stroke-width="1.6" d="M257.6 427L257.6 424.9L257.7 422.8L257.7 420.7L257.8 418.6L257.8 416.4L257.9 414.3L258.1 412.2L258.2 410.1L258.4 407.9L258.6 405.8L258.8 403.7L259.1 401.6L259.5 399.5L259.9 397.3L260.4 395.2L260.9 393.1L261.6 391L262.3 388.9L263.1 386.7L264 384.6L264.9 382.5L266 380.4L267.1 378.2L268.3 376.1L269.6 374L270.9 371.9L272.3 369.8L273.7 367.6L275.1 365.5L276.6 363.4L277.9 361.3L279.3 359.1L280.5 357L281.7 354.9L282.7 352.8L283.6 350.7L284.3 348.5L284.9 346.4L285.3 344.3L285.5 342.2L285.5 340L285.3 337.9L284.9 335.8L284.3 333.7L283.6 331.6L282.7 329.4L281.7 327.3L280.5 325.2L279.3 323.1L277.9 321L276.6 318.8L275.2 316.7L273.7 314.6L272.3 312.5L270.9 310.3L269.6 308.2L268.3 306.1L267.1 304L266 301.9L264.9 299.7L264 297.6L263.1 295.5L262.3 293.4L261.6 291.2L260.9 289.1L260.4 287L259.9 284.9L259.5 282.8L259.1 280.6L258.8 278.5L258.6 276.4L258.4 274.3L258.2 272.1L258.1 270L257.9 267.9L257.8 265.8L257.8 263.7L257.7 261.5L257.7 259.4L257.6 257.3"/>
<path fill="none" stroke="#2F70D4" stroke-width="1.6" d="M379.7 411.5L379.7 410.1L379.8 408.7L379.8 407.2L379.9 405.8L380 404.4L380 403L380.2 401.6L380.3 400.2L380.5 398.8L380.7 397.4L380.9 396L381.2 394.6L381.6 393.2L382 391.7L382.5 390.3L383 388.9L383.6 387.5L384.3 386.1L385.1 384.7L386 383.3L386.9 381.9L388 380.5L389.1 379.1L390.3 377.6L391.5 376.2L392.9 374.8L394.2 373.4L395.6 372L397 370.6L398.4 369.2L399.8 367.8L401.1 366.4L402.4 365L403.5 363.6L404.6 362.1L405.5 360.7L406.3 359.3L406.9 357.9L407.3 356.5L407.5 355.1L407.6 353.7L407.5 352.3L407.1 350.9L406.6 349.5L405.9 348.1L405.1 346.6L404.1 345.2L403 343.8L401.8 342.4L400.5 341L399.2 339.6L397.8 338.2L396.4 336.8L395 335.4L393.6 334L392.3 332.6L391 331.1L389.8 329.7L388.6 328.3L387.5 326.9L386.5 325.5L385.6 324.1L384.8 322.7L384 321.3L383.4 319.9L382.8 318.5L382.3 317.1L381.8 315.6L381.4 314.2L381.1 312.8L380.8 311.4L380.6 310L380.4 308.6L380.2 307.2L380.1 305.8L380 304.4L379.9 303L379.8 301.5L379.8 300.1L379.7 298.7"/>
<path fill="none" stroke="#3CAA6E" stroke-width="1.6" d="M501.7 391.8L501.8 390.8L501.8 389.7L501.8 388.6L501.8 387.5L501.9 386.5L502 385.4L502 384.3L502.1 383.3L502.3 382.2L502.4 381.1L502.6 380.1L502.9 379L503.2 377.9L503.5 376.9L503.9 375.8L504.4 374.7L505 373.6L505.7 372.6L506.4 371.5L507.3 370.4L508.2 369.4L509.3 368.3L510.4 367.2L511.7 366.2L513 365.1L514.4 364L515.8 363L517.3 361.9L518.9 360.8L520.4 359.7L521.9 358.7L523.3 357.6L524.7 356.5L525.9 355.5L527 354.4L527.9 353.3L528.7 352.3L529.3 351.2L529.6 350.1L529.7 349.1L529.6 348L529.3 346.9L528.7 345.8L527.9 344.8L527 343.7L525.9 342.6L524.7 341.6L523.3 340.5L521.9 339.4L520.4 338.4L518.9 337.3L517.3 336.2L515.8 335.2L514.4 334.1L513 333L511.7 331.9L510.4 330.9L509.3 329.8L508.2 328.7L507.3 327.7L506.4 326.6L505.7 325.5L505 324.5L504.4 323.4L503.9 322.3L503.5 321.3L503.2 320.2L502.9 319.1L502.6 318L502.4 317L502.3 315.9L502.1 314.8L502 313.8L502 312.7L501.9 311.6L501.8 310.6L501.8 309.5L501.8 308.4L501.8 307.4L501.7 306.3"/>
<path fill="none" stroke="#B478DC" stroke-width="1.6" d="M624 391.5L624.1 390.6L624.1 389.7L624.2 388.9L624.3 388L624.5 387.1L624.6 386.2L624.8 385.4L625 384.5L625.3 383.6L625.6 382.7L625.9 381.9L626.3 381L626.8 380.1L627.3 379.2L627.9 378.4L628.6 377.5L629.4 376.6L630.2 375.7L631.1 374.9L632.1 374L633.1 373.1L634.2 372.2L635.4 371.4L636.6 370.5L637.9 369.6L639.2 368.7L640.5 367.9L641.9 367L643.2 366.1L644.5 365.2L645.7 364.4L646.9 363.5L648 362.6L648.9 361.7L649.8 360.8L650.5 360L651.1 359.1L651.5 358.2L651.7 357.3L651.8 356.5L651.7 355.6L651.4 354.7L651 353.8L650.4 353L649.7 352.1L648.8 351.2L647.8 350.3L646.7 349.5L645.5 348.6L644.3 347.7L643 346.8L641.7 346L640.3 345.1L639 344.2L637.7 343.3L636.4 342.5L635.2 341.6L634 340.7L632.9 339.8L631.9 339L630.9 338.1L630.1 337.2L629.2 336.3L628.5 335.5L627.8 334.6L627.3 333.7L626.7 332.8L626.3 332L625.9 331.1L625.5 330.2L625.2 329.3L625 328.5L624.8 327.6L624.6 326.7L624.4 325.8L624.3 325L624.2 324.1L624.1 323.2L624.1 322.3L624 321.5"/>
</g>
<g font-family="Liberation Sans" font-size="26" fill="#000" stroke="#fff" stroke-width="0.2">
<text transform="translate(218.8 219.7) skewX(-15)" textLength="52.5" lengthAdjust="spacingAndGlyphs">COV</text>
<text transform="translate(218.9 250.1) skewX(-15)" textLength="47.5" lengthAdjust="spacingAndGlyphs">0.20</text>
<text transform="translate(338.2 250.1) skewX(-15)" textLength="47.5" lengthAdjust="spacingAndGlyphs">0.15</text>
<text transform="translate(466.4 250.1) skewX(-15)" textLength="47.5" lengthAdjust="spacingAndGlyphs">0.10</text>
<text transform="translate(594.7 250.1) skewX(-15)" textLength="47.5" lengthAdjust="spacingAndGlyphs">0.10</text>
</g>
<g transform="translate(0 573.70) scale(1 0.99998)">
<g stroke="#5a5a5a" stroke-width="1.5" fill="none">
<path d="M109.5 173.6V111.7M109.5 233.8V315.5"/>
<path d="M100 111.7h19"/>
<path d="M100 315.5h19"/>
<rect x="90.9" y="173.6" width="37.2" height="60.2" fill="#FFCD92"/>
<path d="M90.9 198.2h37.2"/>
<rect x="107.9" y="212" width="3.2" height="3.2" stroke-width="0.9"/>
</g>
<g stroke="#E84848" stroke-width="1.7" fill="none">
<path d="M231.6 319.1V270.9M231.6 352.1V374.7"/>
<path d="M222.1 270.9h19"/>
<path d="M222.1 374.7h19"/>
<rect x="213" y="319.1" width="37.2" height="33" fill="#9DD799"/>
<path d="M213 344h37.2"/>
<rect x="230" y="333.5" width="3.2" height="3.2" stroke-width="0.9"/>
</g>
<g stroke="#2F70D4" stroke-width="1.7" fill="none">
<path d="M353.7 339.5V316.2M353.7 355.1V374.8"/>
<path d="M344.2 316.2h19"/>
<path d="M344.2 374.8h19"/>
<rect x="335.1" y="339.5" width="37.2" height="15.6" fill="#C6B6D8"/>
<path d="M335.1 348.7h37.2"/>
<rect x="352.1" y="343.7" width="3.2" height="3.2" stroke-width="0.9"/>
</g>
<g stroke="#3CAA6E" stroke-width="1.7" fill="none">
<path d="M475.8 334.8V316.2M475.8 350.5V365.1"/>
<path d="M466.3 316.2h19"/>
<path d="M466.3 365.1h19"/>
<rect x="457.2" y="334.8" width="37.2" height="15.7" fill="#FFFDA0"/>
<path d="M457.2 344h37.2"/>
<rect x="474.2" y="339.9" width="3.2" height="3.2" stroke-width="0.9"/>
</g>
<g stroke="#B478DC" stroke-width="1.7" fill="none">
<path d="M597.9 345.4V329.4M597.9 357.5V367"/>
<path d="M588.4 329.4h19"/>
<path d="M588.4 367h19"/>
<rect x="579.3" y="345.4" width="37.2" height="12.2" fill="#9DBCF7"/>
<path d="M579.3 351.3h37.2"/>
<rect x="596.3" y="348.9" width="3.2" height="3.2" stroke-width="0.9"/>
</g>
<g stroke="#000" stroke-width="1.6" fill="none">
<path d="M72.7 -0.8V467.8M71.9 467.8H684.5"/>
<path d="M64 467.8H72.7M64 401H72.7M64 334.1H72.7M64 267.3H72.7M64 200.5H72.7M64 133.7H72.7M64 66.8H72.7M64 0H72.7M68.9 434.4H72.7M68.9 367.6H72.7M68.9 300.7H72.7M68.9 233.9H72.7M68.9 167.1H72.7M68.9 100.2H72.7M68.9 33.4H72.7M134.2 467.8v9M256.3 467.8v9M378.4 467.8v9M500.5 467.8v9M622.6 467.8v9"/>
</g>
<g font-family="Liberation Sans" font-size="19.5" fill="#000">
<text x="58.4" y="473.5" text-anchor="end">0</text>
<text x="58.4" y="406.7" text-anchor="end">10</text>
<text x="58.4" y="339.8" text-anchor="end">20</text>
<text x="58.4" y="273" text-anchor="end">30</text>
<text x="58.4" y="206.2" text-anchor="end">40</text>
<text x="58.4" y="139.4" text-anchor="end">50</text>
<text x="58.4" y="72.5" text-anchor="end">60</text>
<text x="58.4" y="5.7" text-anchor="end">70</text>
<text x="134.2" y="497.4" text-anchor="middle">Core</text>
<text x="256.3" y="497.4" text-anchor="middle">n=3</text>
<text x="378.4" y="497.4" text-anchor="middle">n=5</text>
<text x="500.5" y="497.4" text-anchor="middle">n=8</text>
<text x="622.6" y="497.4" text-anchor="middle">n=12</text>
</g>
<text transform="translate(17.6 233.9) rotate(-90)" font-family="Liberation Sans" font-size="22.5" text-anchor="middle">Compressive strength (MPa)</text>
<rect x="160.7" y="-3.2" width="186.9" height="41.5" fill="none" stroke="#000" stroke-width="2.3"/>
<text font-family="Liberation Sans" font-size="28" x="166.6" y="26.6">f<tspan font-size="19" dy="7">ck</tspan><tspan dy="-7" x="198.6">27 MPa, all</tspan></text>
<text font-family="Liberation Sans" font-size="27" x="179.2" y="89.7">RHT</text>
</g>
<path fill="#4a4a4a" d="M157.2 738.7h6.2v6.2h-6.2zM156.9 744.8h6.2v6.2h-6.2zM133.6 707.5h6.2v6.2h-6.2zM132.4 854.9h6.2v6.2h-6.2zM144.4 785.8h6.2v6.2h-6.2zM149.3 763.1h6.2v6.2h-6.2zM146 754.6h6.2v6.2h-6.2zM132.5 682.4h6.2v6.2h-6.2zM156.2 757h6.2v6.2h-6.2zM132.4 957.9h6.2v6.2h-6.2zM134 739.2h6.2v6.2h-6.2zM132.4 847.9h6.2v6.2h-6.2zM132.9 903.9h6.2v6.2h-6.2zM136.4 731.4h6.2v6.2h-6.2zM139.7 743.5h6.2v6.2h-6.2zM151.1 782.7h6.2v6.2h-6.2zM133.3 700.1h6.2v6.2h-6.2zM141.4 763.2h6.2v6.2h-6.2zM147.3 785.6h6.2v6.2h-6.2zM138 722.4h6.2v6.2h-6.2zM132.4 942.9h6.2v6.2h-6.2zM133.9 917.9h6.2v6.2h-6.2zM158 770.8h6.2v6.2h-6.2zM137.8 790.2h6.2v6.2h-6.2zM139.3 808.1h6.2v6.2h-6.2zM142.7 777.3h6.2v6.2h-6.2zM154 775.7h6.2v6.2h-6.2zM157.6 762.1h6.2v6.2h-6.2zM133.4 758.4h6.2v6.2h-6.2zM133.2 792.9h6.2v6.2h-6.2zM138.8 773.1h6.2v6.2h-6.2zM139 714h6.2v6.2h-6.2zM150.9 779.7h6.2v6.2h-6.2zM134.5 798.2h6.2v6.2h-6.2zM133.9 831.9h6.2v6.2h-6.2zM135.6 735.4h6.2v6.2h-6.2zM144.8 723.2h6.2v6.2h-6.2zM139.7 748.6h6.2v6.2h-6.2zM134.9 885.9h6.2v6.2h-6.2zM153.9 760.1h6.2v6.2h-6.2zM136.6 701.9h6.2v6.2h-6.2zM138 787h6.2v6.2h-6.2zM134 776.8h6.2v6.2h-6.2zM136.2 782.6h6.2v6.2h-6.2zM142.7 781h6.2v6.2h-6.2zM136.4 779.5h6.2v6.2h-6.2zM135.9 760.6h6.2v6.2h-6.2zM157.1 765.3h6.2v6.2h-6.2zM147.1 771.6h6.2v6.2h-6.2zM139.4 725h6.2v6.2h-6.2zM133.3 807.3h6.2v6.2h-6.2zM135.8 726.4h6.2v6.2h-6.2zM151.9 731.9h6.2v6.2h-6.2zM136.9 776.2h6.2v6.2h-6.2zM133.9 933.9h6.2v6.2h-6.2zM140.9 868.9h6.2v6.2h-6.2zM139.5 732.5h6.2v6.2h-6.2zM154.8 750.7h6.2v6.2h-6.2zM139.3 782.7h6.2v6.2h-6.2zM134.3 747.9h6.2v6.2h-6.2zM135.8 810.2h6.2v6.2h-6.2zM143.4 719h6.2v6.2h-6.2zM132.9 906.9h6.2v6.2h-6.2zM135.9 875.9h6.2v6.2h-6.2zM133.9 789.6h6.2v6.2h-6.2zM141.6 786.2h6.2v6.2h-6.2zM149 734.6h6.2v6.2h-6.2zM139.9 877.9h6.2v6.2h-6.2zM147.6 730.3h6.2v6.2h-6.2zM153.2 771.9h6.2v6.2h-6.2zM149.6 773.7h6.2v6.2h-6.2zM146.8 727.6h6.2v6.2h-6.2zM132.9 863.9h6.2v6.2h-6.2zM149.9 751.5h6.2v6.2h-6.2zM141.1 802.3h6.2v6.2h-6.2zM151.6 756.5h6.2v6.2h-6.2zM155 753.8h6.2v6.2h-6.2zM155.5 735.5h6.2v6.2h-6.2zM135 769.9h6.2v6.2h-6.2zM141.9 721.4h6.2v6.2h-6.2zM145.5 764.6h6.2v6.2h-6.2zM132.9 881.9h6.2v6.2h-6.2zM151.8 736.4h6.2v6.2h-6.2zM146.7 759.5h6.2v6.2h-6.2zM133.1 801.6h6.2v6.2h-6.2zM146.8 782.8h6.2v6.2h-6.2zM147.1 742.5h6.2v6.2h-6.2zM138.9 707.1h6.2v6.2h-6.2zM132.9 858.9h6.2v6.2h-6.2zM132.4 925.9h6.2v6.2h-6.2zM149.9 740.6h6.2v6.2h-6.2zM133.7 714.8h6.2v6.2h-6.2zM137.9 799.3h6.2v6.2h-6.2zM142.9 745.9h6.2v6.2h-6.2zM138.2 739.5h6.2v6.2h-6.2zM150 770.3h6.2v6.2h-6.2zM136 805.8h6.2v6.2h-6.2zM137.1 718.5h6.2v6.2h-6.2zM138.5 756.5h6.2v6.2h-6.2zM142.8 741.7h6.2v6.2h-6.2zM136.3 751.6h6.2v6.2h-6.2zM144 734.6h6.2v6.2h-6.2zM152 764.7h6.2v6.2h-6.2zM141.3 759.9h6.2v6.2h-6.2zM143 768.7h6.2v6.2h-6.2zM133.9 878.9h6.2v6.2h-6.2zM142.2 812.1h6.2v6.2h-6.2zM133.9 822.9h6.2v6.2h-6.2z"/>
<path fill="none" stroke="#E84848" stroke-width="1" d="M279.8 919.3a2.9 2.9 0 1 0 5.8 0a2.9 2.9 0 1 0 -5.8 0M280.3 934.4a2.9 2.9 0 1 0 5.8 0a2.9 2.9 0 1 0 -5.8 0M270.9 919.6a2.9 2.9 0 1 0 5.8 0a2.9 2.9 0 1 0 -5.8 0M270.6 911.3a2.9 2.9 0 1 0 5.8 0a2.9 2.9 0 1 0 -5.8 0M268.1 912.8a2.9 2.9 0 1 0 5.8 0a2.9 2.9 0 1 0 -5.8 0M262.8 930.8a2.9 2.9 0 1 0 5.8 0a2.9 2.9 0 1 0 -5.8 0M278.5 908.6a2.9 2.9 0 1 0 5.8 0a2.9 2.9 0 1 0 -5.8 0M254.7 828a2.9 2.9 0 1 0 5.8 0a2.9 2.9 0 1 0 -5.8 0M274.5 919.4a2.9 2.9 0 1 0 5.8 0a2.9 2.9 0 1 0 -5.8 0M269.3 906.7a2.9 2.9 0 1 0 5.8 0a2.9 2.9 0 1 0 -5.8 0M268.9 892.7a2.9 2.9 0 1 0 5.8 0a2.9 2.9 0 1 0 -5.8 0M255.6 855.6a2.9 2.9 0 1 0 5.8 0a2.9 2.9 0 1 0 -5.8 0M258.3 924.7a2.9 2.9 0 1 0 5.8 0a2.9 2.9 0 1 0 -5.8 0M267.8 885a2.9 2.9 0 1 0 5.8 0a2.9 2.9 0 1 0 -5.8 0M261.5 905.6a2.9 2.9 0 1 0 5.8 0a2.9 2.9 0 1 0 -5.8 0M268.2 931.5a2.9 2.9 0 1 0 5.8 0a2.9 2.9 0 1 0 -5.8 0M255.1 924.8a2.9 2.9 0 1 0 5.8 0a2.9 2.9 0 1 0 -5.8 0M258.2 921.3a2.9 2.9 0 1 0 5.8 0a2.9 2.9 0 1 0 -5.8 0M267.7 890.2a2.9 2.9 0 1 0 5.8 0a2.9 2.9 0 1 0 -5.8 0M256.6 895.3a2.9 2.9 0 1 0 5.8 0a2.9 2.9 0 1 0 -5.8 0M279.5 931a2.9 2.9 0 1 0 5.8 0a2.9 2.9 0 1 0 -5.8 0M255.6 862.3a2.9 2.9 0 1 0 5.8 0a2.9 2.9 0 1 0 -5.8 0M264.3 923.6a2.9 2.9 0 1 0 5.8 0a2.9 2.9 0 1 0 -5.8 0M261.6 898.9a2.9 2.9 0 1 0 5.8 0a2.9 2.9 0 1 0 -5.8 0M255 866.6a2.9 2.9 0 1 0 5.8 0a2.9 2.9 0 1 0 -5.8 0M279.4 915.4a2.9 2.9 0 1 0 5.8 0a2.9 2.9 0 1 0 -5.8 0M267.3 921.5a2.9 2.9 0 1 0 5.8 0a2.9 2.9 0 1 0 -5.8 0M274.1 930a2.9 2.9 0 1 0 5.8 0a2.9 2.9 0 1 0 -5.8 0M262.8 913.8a2.9 2.9 0 1 0 5.8 0a2.9 2.9 0 1 0 -5.8 0M266.2 917.8a2.9 2.9 0 1 0 5.8 0a2.9 2.9 0 1 0 -5.8 0M268.2 935a2.9 2.9 0 1 0 5.8 0a2.9 2.9 0 1 0 -5.8 0M257.2 899a2.9 2.9 0 1 0 5.8 0a2.9 2.9 0 1 0 -5.8 0M258.7 941.4a2.9 2.9 0 1 0 5.8 0a2.9 2.9 0 1 0 -5.8 0M257.9 885.8a2.9 2.9 0 1 0 5.8 0a2.9 2.9 0 1 0 -5.8 0M257.7 935.2a2.9 2.9 0 1 0 5.8 0a2.9 2.9 0 1 0 -5.8 0M271.3 923.4a2.9 2.9 0 1 0 5.8 0a2.9 2.9 0 1 0 -5.8 0M256.5 845.9a2.9 2.9 0 1 0 5.8 0a2.9 2.9 0 1 0 -5.8 0M254.9 948.1a2.9 2.9 0 1 0 5.8 0a2.9 2.9 0 1 0 -5.8 0M262 936.5a2.9 2.9 0 1 0 5.8 0a2.9 2.9 0 1 0 -5.8 0M257.3 882.3a2.9 2.9 0 1 0 5.8 0a2.9 2.9 0 1 0 -5.8 0M266.1 914.8a2.9 2.9 0 1 0 5.8 0a2.9 2.9 0 1 0 -5.8 0M261 928a2.9 2.9 0 1 0 5.8 0a2.9 2.9 0 1 0 -5.8 0M255 919.8a2.9 2.9 0 1 0 5.8 0a2.9 2.9 0 1 0 -5.8 0M258.5 910.9a2.9 2.9 0 1 0 5.8 0a2.9 2.9 0 1 0 -5.8 0M275.8 913.1a2.9 2.9 0 1 0 5.8 0a2.9 2.9 0 1 0 -5.8 0M272.2 915.2a2.9 2.9 0 1 0 5.8 0a2.9 2.9 0 1 0 -5.8 0M277.5 918.1a2.9 2.9 0 1 0 5.8 0a2.9 2.9 0 1 0 -5.8 0M261.5 940.9a2.9 2.9 0 1 0 5.8 0a2.9 2.9 0 1 0 -5.8 0M256.5 927.9a2.9 2.9 0 1 0 5.8 0a2.9 2.9 0 1 0 -5.8 0M266.9 908a2.9 2.9 0 1 0 5.8 0a2.9 2.9 0 1 0 -5.8 0M265.9 881a2.9 2.9 0 1 0 5.8 0a2.9 2.9 0 1 0 -5.8 0M259.5 916a2.9 2.9 0 1 0 5.8 0a2.9 2.9 0 1 0 -5.8 0M265 891.8a2.9 2.9 0 1 0 5.8 0a2.9 2.9 0 1 0 -5.8 0M274.1 924.9a2.9 2.9 0 1 0 5.8 0a2.9 2.9 0 1 0 -5.8 0M276 907.7a2.9 2.9 0 1 0 5.8 0a2.9 2.9 0 1 0 -5.8 0M261.5 920.2a2.9 2.9 0 1 0 5.8 0a2.9 2.9 0 1 0 -5.8 0M260.2 938.4a2.9 2.9 0 1 0 5.8 0a2.9 2.9 0 1 0 -5.8 0M260.2 896.6a2.9 2.9 0 1 0 5.8 0a2.9 2.9 0 1 0 -5.8 0M255 878a2.9 2.9 0 1 0 5.8 0a2.9 2.9 0 1 0 -5.8 0M255.8 902.9a2.9 2.9 0 1 0 5.8 0a2.9 2.9 0 1 0 -5.8 0M254.8 869.2a2.9 2.9 0 1 0 5.8 0a2.9 2.9 0 1 0 -5.8 0M259.1 901.5a2.9 2.9 0 1 0 5.8 0a2.9 2.9 0 1 0 -5.8 0M265.8 910.4a2.9 2.9 0 1 0 5.8 0a2.9 2.9 0 1 0 -5.8 0M255 874.9a2.9 2.9 0 1 0 5.8 0a2.9 2.9 0 1 0 -5.8 0M256.2 850.6a2.9 2.9 0 1 0 5.8 0a2.9 2.9 0 1 0 -5.8 0M264.8 884.3a2.9 2.9 0 1 0 5.8 0a2.9 2.9 0 1 0 -5.8 0M263.1 896.1a2.9 2.9 0 1 0 5.8 0a2.9 2.9 0 1 0 -5.8 0M276.7 927.8a2.9 2.9 0 1 0 5.8 0a2.9 2.9 0 1 0 -5.8 0M279.3 925.4a2.9 2.9 0 1 0 5.8 0a2.9 2.9 0 1 0 -5.8 0M263.2 882.2a2.9 2.9 0 1 0 5.8 0a2.9 2.9 0 1 0 -5.8 0M262.1 892.9a2.9 2.9 0 1 0 5.8 0a2.9 2.9 0 1 0 -5.8 0M255.6 943.2a2.9 2.9 0 1 0 5.8 0a2.9 2.9 0 1 0 -5.8 0M255.2 912.7a2.9 2.9 0 1 0 5.8 0a2.9 2.9 0 1 0 -5.8 0M268 928.7a2.9 2.9 0 1 0 5.8 0a2.9 2.9 0 1 0 -5.8 0M258.8 904.2a2.9 2.9 0 1 0 5.8 0a2.9 2.9 0 1 0 -5.8 0M257.5 890.7a2.9 2.9 0 1 0 5.8 0a2.9 2.9 0 1 0 -5.8 0"/>
<path fill="none" stroke="#2F70D4" stroke-width="1" d="M398.2 925.3l3.7 6h-7.4zM381.9 875.7l3.7 6h-7.4zM381 933l3.7 6h-7.4zM386.7 914.8l3.7 6h-7.4zM379.9 888.8l3.7 6h-7.4zM391.3 928.5l3.7 6h-7.4zM380.9 910.9l3.7 6h-7.4zM380.2 917.1l3.7 6h-7.4zM381.2 921.5l3.7 6h-7.4zM393.9 910.5l3.7 6h-7.4zM380.8 904.4l3.7 6h-7.4zM406.4 930.2l3.7 6h-7.4zM392.6 912.4l3.7 6h-7.4zM389.3 921.7l3.7 6h-7.4zM381.5 927.2l3.7 6h-7.4zM380 861.7l3.7 6h-7.4zM390.3 912.1l3.7 6h-7.4zM381.1 879l3.7 6h-7.4zM405.8 926l3.7 6h-7.4zM384.4 941.5l3.7 6h-7.4zM380 929.2l3.7 6h-7.4zM387.1 912.3l3.7 6h-7.4zM392.4 920.5l3.7 6h-7.4zM389.3 934.7l3.7 6h-7.4zM390.5 930.9l3.7 6h-7.4zM385.1 906.9l3.7 6h-7.4zM379.8 884.9l3.7 6h-7.4zM379.7 842.4l3.7 6h-7.4zM381 907l3.7 6h-7.4zM386.5 917.6l3.7 6h-7.4zM383 929.5l3.7 6h-7.4zM395.5 925.7l3.7 6h-7.4zM400.5 920.9l3.7 6h-7.4zM391.5 915.5l3.7 6h-7.4zM396.6 914.2l3.7 6h-7.4zM393.3 922.7l3.7 6h-7.4zM397.6 922.5l3.7 6h-7.4zM382.1 940l3.7 6h-7.4zM383.2 892.3l3.7 6h-7.4zM382.7 883.4l3.7 6h-7.4zM382.9 901l3.7 6h-7.4zM381.5 898.4l3.7 6h-7.4zM381.7 936.8l3.7 6h-7.4zM395.5 929.8l3.7 6h-7.4zM389.3 924.1l3.7 6h-7.4zM402.4 923.7l3.7 6h-7.4zM392.3 933.4l3.7 6h-7.4zM395.1 907l3.7 6h-7.4zM395 919.5l3.7 6h-7.4zM399.1 915.9l3.7 6h-7.4zM380.3 924.5l3.7 6h-7.4zM383.3 934.2l3.7 6h-7.4zM395.2 916.6l3.7 6h-7.4zM382.7 909.3l3.7 6h-7.4zM399 929.1l3.7 6h-7.4zM399.3 913.6l3.7 6h-7.4zM387.6 931.7l3.7 6h-7.4zM389.4 906.4l3.7 6h-7.4zM388 904l3.7 6h-7.4zM386.8 909.7l3.7 6h-7.4zM380.1 855.3l3.7 6h-7.4zM383.3 890l3.7 6h-7.4zM387.1 935.7l3.7 6h-7.4zM392.7 908l3.7 6h-7.4zM380 864.9l3.7 6h-7.4zM386.2 938.2l3.7 6h-7.4zM383.2 943.8l3.7 6h-7.4zM383 913.3l3.7 6h-7.4zM379.9 935.2l3.7 6h-7.4zM379.6 870.8l3.7 6h-7.4z"/>
<path fill="none" stroke="#3CAA6E" stroke-width="1" d="M502.4 938.2l3.7 -6.2h-7.4zM514.7 931.9l3.7 -6.2h-7.4zM509.8 894l3.7 -6.2h-7.4zM504.1 913.9l3.7 -6.2h-7.4zM514.5 904.2l3.7 -6.2h-7.4zM512.9 924.6l3.7 -6.2h-7.4zM508.5 924.7l3.7 -6.2h-7.4zM503 907.2l3.7 -6.2h-7.4zM510.2 924l3.7 -6.2h-7.4zM503.3 895.4l3.7 -6.2h-7.4zM518.4 937.4l3.7 -6.2h-7.4zM511.8 913.4l3.7 -6.2h-7.4zM502.2 910.3l3.7 -6.2h-7.4zM514 940.1l3.7 -6.2h-7.4zM522.7 912.6l3.7 -6.2h-7.4zM502.8 925.4l3.7 -6.2h-7.4zM506.9 894.3l3.7 -6.2h-7.4zM502.3 929.3l3.7 -6.2h-7.4zM510.3 933.2l3.7 -6.2h-7.4zM512.7 934.2l3.7 -6.2h-7.4zM512.1 899l3.7 -6.2h-7.4zM521.3 917.3l3.7 -6.2h-7.4zM507.4 902l3.7 -6.2h-7.4zM524.9 914.8l3.7 -6.2h-7.4zM511.2 909.5l3.7 -6.2h-7.4zM510.2 915.6l3.7 -6.2h-7.4zM502.1 883.7l3.7 -6.2h-7.4zM506.7 918l3.7 -6.2h-7.4zM516.9 929.9l3.7 -6.2h-7.4zM517 916l3.7 -6.2h-7.4zM512.2 911.1l3.7 -6.2h-7.4zM516.4 937.7l3.7 -6.2h-7.4zM516.7 919.4l3.7 -6.2h-7.4zM513.4 903.2l3.7 -6.2h-7.4zM513.9 935.3l3.7 -6.2h-7.4zM514.1 912l3.7 -6.2h-7.4zM513.6 905.4l3.7 -6.2h-7.4zM518.2 912.4l3.7 -6.2h-7.4zM521.2 924.4l3.7 -6.2h-7.4zM525.1 912.1l3.7 -6.2h-7.4zM514.8 929.1l3.7 -6.2h-7.4zM524.9 919.8l3.7 -6.2h-7.4zM515.3 939.3l3.7 -6.2h-7.4zM505.8 902.6l3.7 -6.2h-7.4zM510.7 902.4l3.7 -6.2h-7.4zM520.4 934.6l3.7 -6.2h-7.4zM513.5 938.6l3.7 -6.2h-7.4zM510.9 921.7l3.7 -6.2h-7.4zM513.2 931l3.7 -6.2h-7.4zM512.4 927.6l3.7 -6.2h-7.4zM506.2 928.8l3.7 -6.2h-7.4zM512.1 901.8l3.7 -6.2h-7.4zM510.3 906.4l3.7 -6.2h-7.4zM506.4 897.7l3.7 -6.2h-7.4zM520.1 922.4l3.7 -6.2h-7.4zM503.9 928.3l3.7 -6.2h-7.4zM502.2 890.4l3.7 -6.2h-7.4zM502.6 920.4l3.7 -6.2h-7.4zM505 907l3.7 -6.2h-7.4zM524.8 917.3l3.7 -6.2h-7.4zM520.1 916.6l3.7 -6.2h-7.4zM510.9 908.1l3.7 -6.2h-7.4zM507.5 916.5l3.7 -6.2h-7.4zM503.6 922l3.7 -6.2h-7.4zM514.7 937.8l3.7 -6.2h-7.4zM523 916.6l3.7 -6.2h-7.4zM503.9 902.2l3.7 -6.2h-7.4zM519.9 938l3.7 -6.2h-7.4zM514.6 925.2l3.7 -6.2h-7.4zM503.6 934.5l3.7 -6.2h-7.4zM503.7 900.7l3.7 -6.2h-7.4zM526.4 916.7l3.7 -6.2h-7.4zM510.5 911.4l3.7 -6.2h-7.4zM502.1 901.8l3.7 -6.2h-7.4zM522 920.4l3.7 -6.2h-7.4zM502 922l3.7 -6.2h-7.4zM507.2 941l3.7 -6.2h-7.4zM519.1 918.7l3.7 -6.2h-7.4zM511.6 931.1l3.7 -6.2h-7.4zM511.5 935.8l3.7 -6.2h-7.4zM506.1 914.9l3.7 -6.2h-7.4zM509.3 910.6l3.7 -6.2h-7.4zM518.8 925.1l3.7 -6.2h-7.4zM506.3 923.3l3.7 -6.2h-7.4zM519.7 928.9l3.7 -6.2h-7.4zM503.2 912.4l3.7 -6.2h-7.4zM510.6 899.5l3.7 -6.2h-7.4zM509.2 941.8l3.7 -6.2h-7.4zM508.4 905.9l3.7 -6.2h-7.4zM511.6 903.7l3.7 -6.2h-7.4zM502.2 900.2l3.7 -6.2h-7.4zM521.4 928.9l3.7 -6.2h-7.4zM516.7 912.4l3.7 -6.2h-7.4zM502.5 917.3l3.7 -6.2h-7.4zM528.6 918.2l3.7 -6.2h-7.4zM519.2 933.4l3.7 -6.2h-7.4zM524 925.5l3.7 -6.2h-7.4zM515.7 933.3l3.7 -6.2h-7.4zM515.5 911.3l3.7 -6.2h-7.4zM513.8 927.6l3.7 -6.2h-7.4zM505.3 916.5l3.7 -6.2h-7.4zM508.6 919.2l3.7 -6.2h-7.4zM513.4 915.3l3.7 -6.2h-7.4zM509.8 920.6l3.7 -6.2h-7.4zM527.7 922.4l3.7 -6.2h-7.4zM518.7 935.8l3.7 -6.2h-7.4zM520.8 931.6l3.7 -6.2h-7.4zM507 905.3l3.7 -6.2h-7.4zM512.1 938.6l3.7 -6.2h-7.4zM514.3 907.4l3.7 -6.2h-7.4zM513.7 921.7l3.7 -6.2h-7.4zM517.1 910.1l3.7 -6.2h-7.4zM524.2 922.3l3.7 -6.2h-7.4zM502.8 893.3l3.7 -6.2h-7.4zM507.5 914.2l3.7 -6.2h-7.4zM508.9 899.4l3.7 -6.2h-7.4zM520.9 910.8l3.7 -6.2h-7.4zM509.3 901.2l3.7 -6.2h-7.4zM513.1 917.1l3.7 -6.2h-7.4zM519 915.8l3.7 -6.2h-7.4zM507.4 927.2l3.7 -6.2h-7.4zM510.3 912.8l3.7 -6.2h-7.4zM504.8 938.6l3.7 -6.2h-7.4zM502.8 918.8l3.7 -6.2h-7.4zM502.6 936.2l3.7 -6.2h-7.4zM522 933.3l3.7 -6.2h-7.4zM504.1 942.3l3.7 -6.2h-7.4zM505 903.9l3.7 -6.2h-7.4zM504.7 910.9l3.7 -6.2h-7.4zM515.9 914.3l3.7 -6.2h-7.4zM508.6 915.8l3.7 -6.2h-7.4zM514.9 909l3.7 -6.2h-7.4zM503 904.9l3.7 -6.2h-7.4zM504.8 899.5l3.7 -6.2h-7.4zM505.6 919.1l3.7 -6.2h-7.4zM502.5 932.7l3.7 -6.2h-7.4zM504.6 915.3l3.7 -6.2h-7.4zM505.9 925.3l3.7 -6.2h-7.4zM519.8 912.4l3.7 -6.2h-7.4zM509.3 896.3l3.7 -6.2h-7.4zM511.1 928.4l3.7 -6.2h-7.4zM509.4 904.8l3.7 -6.2h-7.4zM509.2 917.3l3.7 -6.2h-7.4zM511.7 915.1l3.7 -6.2h-7.4zM512.8 909.6l3.7 -6.2h-7.4zM525.8 923.6l3.7 -6.2h-7.4zM510 939.6l3.7 -6.2h-7.4zM508.5 922.2l3.7 -6.2h-7.4zM509.1 908.2l3.7 -6.2h-7.4zM511 896.8l3.7 -6.2h-7.4zM509.5 931.7l3.7 -6.2h-7.4zM510.7 919.2l3.7 -6.2h-7.4zM518.7 939.8l3.7 -6.2h-7.4zM520.7 926.8l3.7 -6.2h-7.4zM518 923.2l3.7 -6.2h-7.4zM504.4 897.7l3.7 -6.2h-7.4zM509.3 936l3.7 -6.2h-7.4zM510.3 937.5l3.7 -6.2h-7.4zM516.5 906.4l3.7 -6.2h-7.4zM522.6 919l3.7 -6.2h-7.4zM508.4 934.2l3.7 -6.2h-7.4zM507.7 931.6l3.7 -6.2h-7.4zM506.4 911.8l3.7 -6.2h-7.4zM504.4 892.4l3.7 -6.2h-7.4zM519.3 913.8l3.7 -6.2h-7.4zM502.2 930.7l3.7 -6.2h-7.4zM507.6 908.9l3.7 -6.2h-7.4zM512.9 920.5l3.7 -6.2h-7.4zM517.9 907l3.7 -6.2h-7.4zM526.2 919.6l3.7 -6.2h-7.4zM517.4 938.9l3.7 -6.2h-7.4zM506 900.3l3.7 -6.2h-7.4zM507.4 936.9l3.7 -6.2h-7.4zM502.4 887.7l3.7 -6.2h-7.4zM501.9 895.7l3.7 -6.2h-7.4zM521.8 914.5l3.7 -6.2h-7.4zM504.7 909l3.7 -6.2h-7.4zM504.2 931.2l3.7 -6.2h-7.4zM509.8 926.8l3.7 -6.2h-7.4zM502.2 914.3l3.7 -6.2h-7.4zM517.8 920.9l3.7 -6.2h-7.4zM507.8 911.5l3.7 -6.2h-7.4zM516.4 935.3l3.7 -6.2h-7.4zM526.2 925.5l3.7 -6.2h-7.4zM515.1 918.1l3.7 -6.2h-7.4zM505 940.6l3.7 -6.2h-7.4zM515.5 927.8l3.7 -6.2h-7.4zM515.6 922.4l3.7 -6.2h-7.4zM517.9 914.1l3.7 -6.2h-7.4zM504.9 926.9l3.7 -6.2h-7.4z"/>
<path fill="none" stroke="#B478DC" stroke-width="1" d="M629.1 916.7l4.6 4.6l-4.6 4.6l-4.6 -4.6zM627.5 906.3l4.6 4.6l-4.6 4.6l-4.6 -4.6zM626.7 914.5l4.6 4.6l-4.6 4.6l-4.6 -4.6zM631.2 916.6l4.6 4.6l-4.6 4.6l-4.6 -4.6zM650.2 926l4.6 4.6l-4.6 4.6l-4.6 -4.6zM632.5 928.9l4.6 4.6l-4.6 4.6l-4.6 -4.6zM643.1 921.2l4.6 4.6l-4.6 4.6l-4.6 -4.6zM635.1 908.3l4.6 4.6l-4.6 4.6l-4.6 -4.6zM637.8 909.4l4.6 4.6l-4.6 4.6l-4.6 -4.6zM626.1 912.5l4.6 4.6l-4.6 4.6l-4.6 -4.6zM633 933.3l4.6 4.6l-4.6 4.6l-4.6 -4.6zM626.9 932.8l4.6 4.6l-4.6 4.6l-4.6 -4.6zM627 903.2l4.6 4.6l-4.6 4.6l-4.6 -4.6zM647.9 925.2l4.6 4.6l-4.6 4.6l-4.6 -4.6zM630.4 911.3l4.6 4.6l-4.6 4.6l-4.6 -4.6zM637.9 926.2l4.6 4.6l-4.6 4.6l-4.6 -4.6zM645.3 923.6l4.6 4.6l-4.6 4.6l-4.6 -4.6zM631 909.4l4.6 4.6l-4.6 4.6l-4.6 -4.6zM647.2 931.8l4.6 4.6l-4.6 4.6l-4.6 -4.6zM624.4 874.7l4.6 4.6l-4.6 4.6l-4.6 -4.6zM631.8 931.6l4.6 4.6l-4.6 4.6l-4.6 -4.6zM634.8 918.9l4.6 4.6l-4.6 4.6l-4.6 -4.6zM643.3 932l4.6 4.6l-4.6 4.6l-4.6 -4.6zM637.5 914.3l4.6 4.6l-4.6 4.6l-4.6 -4.6zM649.4 927.8l4.6 4.6l-4.6 4.6l-4.6 -4.6zM629.7 933.7l4.6 4.6l-4.6 4.6l-4.6 -4.6zM635.9 928.1l4.6 4.6l-4.6 4.6l-4.6 -4.6zM629.9 907.3l4.6 4.6l-4.6 4.6l-4.6 -4.6zM626.5 923.3l4.6 4.6l-4.6 4.6l-4.6 -4.6zM631.1 924.6l4.6 4.6l-4.6 4.6l-4.6 -4.6zM634.3 904.2l4.6 4.6l-4.6 4.6l-4.6 -4.6zM636.9 932.3l4.6 4.6l-4.6 4.6l-4.6 -4.6zM639.8 923.1l4.6 4.6l-4.6 4.6l-4.6 -4.6zM634.7 913.5l4.6 4.6l-4.6 4.6l-4.6 -4.6zM639.1 915.6l4.6 4.6l-4.6 4.6l-4.6 -4.6zM626 895.6l4.6 4.6l-4.6 4.6l-4.6 -4.6zM635.3 910.5l4.6 4.6l-4.6 4.6l-4.6 -4.6zM631.3 905.2l4.6 4.6l-4.6 4.6l-4.6 -4.6zM637.7 917.3l4.6 4.6l-4.6 4.6l-4.6 -4.6zM629.8 928.6l4.6 4.6l-4.6 4.6l-4.6 -4.6zM643.6 929.3l4.6 4.6l-4.6 4.6l-4.6 -4.6zM632 935.5l4.6 4.6l-4.6 4.6l-4.6 -4.6zM631.3 903.1l4.6 4.6l-4.6 4.6l-4.6 -4.6zM634 916.4l4.6 4.6l-4.6 4.6l-4.6 -4.6zM642.2 914.1l4.6 4.6l-4.6 4.6l-4.6 -4.6zM636.5 907l4.6 4.6l-4.6 4.6l-4.6 -4.6zM628.9 904.1l4.6 4.6l-4.6 4.6l-4.6 -4.6zM634.4 924.8l4.6 4.6l-4.6 4.6l-4.6 -4.6zM641.9 926.8l4.6 4.6l-4.6 4.6l-4.6 -4.6zM628.7 931.3l4.6 4.6l-4.6 4.6l-4.6 -4.6zM642.1 919.1l4.6 4.6l-4.6 4.6l-4.6 -4.6zM628.8 935.8l4.6 4.6l-4.6 4.6l-4.6 -4.6zM643 916.8l4.6 4.6l-4.6 4.6l-4.6 -4.6zM629 914.7l4.6 4.6l-4.6 4.6l-4.6 -4.6zM630.8 920.4l4.6 4.6l-4.6 4.6l-4.6 -4.6zM639.5 931.5l4.6 4.6l-4.6 4.6l-4.6 -4.6zM628.4 921.3l4.6 4.6l-4.6 4.6l-4.6 -4.6zM645.5 920.8l4.6 4.6l-4.6 4.6l-4.6 -4.6zM629 923.9l4.6 4.6l-4.6 4.6l-4.6 -4.6zM625.5 917.8l4.6 4.6l-4.6 4.6l-4.6 -4.6zM625.8 899.5l4.6 4.6l-4.6 4.6l-4.6 -4.6zM626.5 929l4.6 4.6l-4.6 4.6l-4.6 -4.6zM638.8 919.6l4.6 4.6l-4.6 4.6l-4.6 -4.6zM628 925.7l4.6 4.6l-4.6 4.6l-4.6 -4.6zM633.6 909.5l4.6 4.6l-4.6 4.6l-4.6 -4.6zM641.7 924.7l4.6 4.6l-4.6 4.6l-4.6 -4.6zM638.8 928.8l4.6 4.6l-4.6 4.6l-4.6 -4.6zM639.8 912.5l4.6 4.6l-4.6 4.6l-4.6 -4.6zM645.9 929.3l4.6 4.6l-4.6 4.6l-4.6 -4.6zM644.9 927.6l4.6 4.6l-4.6 4.6l-4.6 -4.6zM644.9 917.6l4.6 4.6l-4.6 4.6l-4.6 -4.6zM646.5 926.6l4.6 4.6l-4.6 4.6l-4.6 -4.6z"/>
<g transform="translate(0 573.70) scale(1 0.99998)">
<path fill="none" stroke="#5a5a5a" stroke-width="1.1" d="M135.5 400.3L135.6 396.6L135.6 393L135.7 389.3L135.7 385.6L135.8 382L135.9 378.3L136 374.6L136.1 371L136.2 367.3L136.3 363.6L136.5 360L136.7 356.3L136.9 352.6L137.1 349L137.4 345.3L137.7 341.6L138.1 338L138.5 334.3L138.9 330.6L139.4 327L139.9 323.3L140.5 319.6L141.1 316L141.8 312.3L142.5 308.6L143.3 305L144.1 301.3L145 297.6L145.9 294L146.9 290.3L147.9 286.6L148.9 283L150 279.3L151 275.6L152.1 272L153.2 268.3L154.3 264.6L155.3 261L156.4 257.3L157.4 253.6L158.3 250L159.2 246.3L160 242.6L160.8 239L161.5 235.3L162.1 231.6L162.5 227.9L162.9 224.3L163.2 220.6L163.4 216.9L163.4 213.3L163.3 209.6L163.2 205.9L162.9 202.3L162.5 198.6L162 194.9L161.4 191.3L160.7 187.6L159.9 183.9L159.1 180.3L158.2 176.6L157.2 172.9L156.2 169.3L155.2 165.6L154.1 161.9L153 158.3L151.9 154.6L150.9 150.9L149.8 147.3L148.7 143.6L147.7 139.9L146.7 136.3L145.8 132.6L144.9 128.9L144 125.3L143.2 121.6L142.4 117.9L141.7 114.3L141 110.6L140.4 106.9"/>
<path fill="none" stroke="#E84848" stroke-width="1.6" d="M258.1 401L258.2 399.3L258.4 397.6L258.6 395.9L258.8 394.2L259 392.6L259.3 390.9L259.6 389.2L260 387.5L260.4 385.8L260.9 384.1L261.4 382.5L262 380.8L262.6 379.1L263.3 377.4L264.1 375.7L264.9 374L265.8 372.4L266.7 370.7L267.7 369L268.8 367.3L269.8 365.6L271 363.9L272.1 362.2L273.3 360.6L274.5 358.9L275.7 357.2L276.9 355.5L278.1 353.8L279.2 352.1L280.3 350.5L281.3 348.8L282.2 347.1L283 345.4L283.7 343.7L284.3 342L284.8 340.4L285.2 338.7L285.4 337L285.5 335.3L285.4 333.6L285.3 331.9L284.9 330.2L284.5 328.6L283.9 326.9L283.2 325.2L282.4 323.5L281.5 321.8L280.5 320.1L279.5 318.5L278.4 316.8L277.2 315.1L276 313.4L274.8 311.7L273.6 310L272.4 308.4L271.3 306.7L270.1 305L269 303.3L268 301.6L267 299.9L266 298.2L265.1 296.6L264.3 294.9L263.5 293.2L262.8 291.5L262.1 289.8L261.5 288.1L261 286.5L260.5 284.8L260.1 283.1L259.7 281.4L259.4 279.7L259.1 278L258.9 276.4L258.6 274.7L258.4 273L258.3 271.3L258.1 269.6L258 267.9L257.9 266.3"/>
<path fill="none" stroke="#2F70D4" stroke-width="1.6" d="M379.9 400.8L380 399.3L380.1 397.9L380.2 396.5L380.3 395L380.5 393.6L380.7 392.1L380.9 390.7L381.2 389.3L381.5 387.8L381.9 386.4L382.3 384.9L382.8 383.5L383.4 382L384 380.6L384.7 379.2L385.5 377.7L386.4 376.3L387.3 374.8L388.3 373.4L389.4 372L390.5 370.5L391.7 369.1L393 367.6L394.3 366.2L395.6 364.8L396.9 363.3L398.3 361.9L399.6 360.4L400.8 359L402 357.5L403.2 356.1L404.2 354.7L405.1 353.2L405.9 351.8L406.6 350.3L407.1 348.9L407.4 347.5L407.6 346L407.6 344.6L407.4 343.1L407.1 341.7L406.6 340.3L405.9 338.8L405.1 337.4L404.2 335.9L403.1 334.5L402 333.1L400.8 331.6L399.5 330.2L398.2 328.7L396.9 327.3L395.6 325.8L394.3 324.4L393 323L391.7 321.5L390.5 320.1L389.4 318.6L388.3 317.2L387.3 315.8L386.4 314.3L385.5 312.9L384.7 311.4L384 310L383.4 308.6L382.8 307.1L382.3 305.7L381.9 304.2L381.5 302.8L381.2 301.3L380.9 299.9L380.7 298.5L380.5 297L380.3 295.6L380.2 294.1L380.1 292.7L380 291.3L379.9 289.8L379.8 288.4L379.8 286.9L379.7 285.5"/>
<path fill="none" stroke="#3CAA6E" stroke-width="1.6" d="M501.9 381.9L501.9 380.9L502 379.9L502 378.9L502.1 377.9L502.3 376.9L502.4 375.9L502.6 374.9L502.8 373.8L503 372.8L503.3 371.8L503.6 370.8L504 369.8L504.4 368.8L504.9 367.8L505.5 366.8L506.1 365.8L506.8 364.7L507.6 363.7L508.5 362.7L509.5 361.7L510.5 360.7L511.6 359.7L512.8 358.7L514 357.7L515.3 356.7L516.6 355.7L518 354.6L519.4 353.6L520.7 352.6L522 351.6L523.3 350.6L524.5 349.6L525.6 348.6L526.7 347.6L527.5 346.6L528.3 345.5L528.9 344.5L529.3 343.5L529.6 342.5L529.7 341.5L529.6 340.5L529.3 339.5L528.9 338.5L528.3 337.5L527.5 336.4L526.7 335.4L525.6 334.4L524.5 333.4L523.3 332.4L522 331.4L520.7 330.4L519.4 329.4L518 328.4L516.6 327.4L515.3 326.3L514 325.3L512.8 324.3L511.6 323.3L510.5 322.3L509.5 321.3L508.5 320.3L507.6 319.3L506.8 318.3L506.1 317.2L505.5 316.2L504.9 315.2L504.4 314.2L504 313.2L503.6 312.2L503.3 311.2L503 310.2L502.8 309.2L502.6 308.1L502.4 307.1L502.3 306.1L502.1 305.1L502 304.1L502 303.1L501.9 302.1L501.9 301.1"/>
<path fill="none" stroke="#B478DC" stroke-width="1.6" d="M623.9 381.2L624 380.4L624 379.7L624.1 378.9L624.2 378.1L624.3 377.4L624.4 376.6L624.5 375.8L624.7 375.1L624.9 374.3L625.2 373.5L625.5 372.8L625.8 372L626.2 371.2L626.7 370.5L627.2 369.7L627.8 368.9L628.5 368.2L629.3 367.4L630.2 366.6L631.1 365.9L632.1 365.1L633.2 364.3L634.4 363.6L635.6 362.8L636.9 362L638.3 361.3L639.7 360.5L641.1 359.7L642.4 359L643.8 358.2L645.1 357.4L646.4 356.7L647.6 355.9L648.6 355.1L649.5 354.4L650.3 353.6L651 352.8L651.4 352.1L651.7 351.3L651.8 350.5L651.7 349.8L651.4 349L651 348.2L650.3 347.5L649.5 346.7L648.6 345.9L647.6 345.2L646.4 344.4L645.1 343.6L643.8 342.9L642.4 342.1L641.1 341.3L639.7 340.6L638.3 339.8L636.9 339L635.6 338.3L634.4 337.5L633.2 336.7L632.1 336L631.1 335.2L630.2 334.4L629.3 333.7L628.5 332.9L627.8 332.1L627.2 331.4L626.7 330.6L626.2 329.8L625.8 329.1L625.5 328.3L625.2 327.5L624.9 326.8L624.7 326L624.5 325.2L624.4 324.4L624.3 323.7L624.2 322.9L624.1 322.1L624 321.4L624 320.6L623.9 319.8"/>
</g>
<g font-family="Liberation Sans" font-size="26" fill="#000" stroke="#fff" stroke-width="0.2">
<text transform="translate(218.8 777.3) skewX(-15)" textLength="52.5" lengthAdjust="spacingAndGlyphs">COV</text>
<text transform="translate(218.9 807.7) skewX(-15)" textLength="47.5" lengthAdjust="spacingAndGlyphs">0.18</text>
<text transform="translate(338.2 807.7) skewX(-15)" textLength="47.5" lengthAdjust="spacingAndGlyphs">0.15</text>
<text transform="translate(466.4 807.7) skewX(-15)" textLength="47.5" lengthAdjust="spacingAndGlyphs">0.10</text>
<text transform="translate(594.7 807.7) skewX(-15)" textLength="47.5" lengthAdjust="spacingAndGlyphs">0.08</text>
</g>
<g transform="translate(0 1112.05) scale(1 0.99998)">
<g stroke="#5a5a5a" stroke-width="1.5" fill="none">
<path d="M109.5 150V11.4M109.5 258.2V387.1"/>
<path d="M100 11.4h19"/>
<path d="M100 387.1h19"/>
<rect x="90.9" y="150" width="37.2" height="108.3" fill="#FFCD92"/>
<path d="M90.9 201.1h37.2"/>
<rect x="107.9" y="198.4" width="3.2" height="3.2" stroke-width="0.9"/>
</g>
<g stroke="#E84848" stroke-width="1.7" fill="none">
<path d="M231.6 319.2V250.3M231.6 369.2V432.5"/>
<path d="M222.1 250.3h19"/>
<path d="M222.1 432.5h19"/>
<rect x="213" y="319.2" width="37.2" height="50" fill="#9DD799"/>
<path d="M213 347.2h37.2"/>
<rect x="230" y="337.8" width="3.2" height="3.2" stroke-width="0.9"/>
</g>
<g stroke="#2F70D4" stroke-width="1.7" fill="none">
<path d="M353.7 342.4V305.7M353.7 378.2V422.8"/>
<path d="M344.2 305.7h19"/>
<path d="M344.2 422.8h19"/>
<rect x="335.1" y="342.4" width="37.2" height="35.8" fill="#C6B6D8"/>
<path d="M335.1 360.3h37.2"/>
<rect x="352.1" y="356.1" width="3.2" height="3.2" stroke-width="0.9"/>
</g>
<g stroke="#3CAA6E" stroke-width="1.7" fill="none">
<path d="M475.8 338.8V297.3M475.8 367.4V395.4"/>
<path d="M466.3 297.3h19"/>
<path d="M466.3 395.4h19"/>
<rect x="457.2" y="338.8" width="37.2" height="28.6" fill="#FFFDA0"/>
<path d="M457.2 353.3h37.2"/>
<rect x="474.2" y="349.3" width="3.2" height="3.2" stroke-width="0.9"/>
</g>
<g stroke="#B478DC" stroke-width="1.7" fill="none">
<path d="M597.9 353.9V325.5M597.9 372.8V399.8"/>
<path d="M588.4 325.5h19"/>
<path d="M588.4 399.8h19"/>
<rect x="579.3" y="353.9" width="37.2" height="19" fill="#9DBCF7"/>
<path d="M579.3 362.7h37.2"/>
<rect x="596.3" y="359.3" width="3.2" height="3.2" stroke-width="0.9"/>
</g>
<g stroke="#000" stroke-width="1.6" fill="none">
<path d="M72.7 -0.8V467.8M71.9 467.8H684.5"/>
<path d="M64 467.8H72.7M64 401H72.7M64 334.1H72.7M64 267.3H72.7M64 200.5H72.7M64 133.7H72.7M64 66.8H72.7M64 0H72.7M68.9 434.4H72.7M68.9 367.6H72.7M68.9 300.7H72.7M68.9 233.9H72.7M68.9 167.1H72.7M68.9 100.2H72.7M68.9 33.4H72.7M134.2 467.8v9M256.3 467.8v9M378.4 467.8v9M500.5 467.8v9M622.6 467.8v9"/>
</g>
<g font-family="Liberation Sans" font-size="19.5" fill="#000">
<text x="58.4" y="473.5" text-anchor="end">0</text>
<text x="58.4" y="406.7" text-anchor="end">10</text>
<text x="58.4" y="339.8" text-anchor="end">20</text>
<text x="58.4" y="273" text-anchor="end">30</text>
<text x="58.4" y="206.2" text-anchor="end">40</text>
<text x="58.4" y="139.4" text-anchor="end">50</text>
<text x="58.4" y="72.5" text-anchor="end">60</text>
<text x="58.4" y="5.7" text-anchor="end">70</text>
<text x="134.2" y="497.4" text-anchor="middle">Core</text>
<text x="256.3" y="497.4" text-anchor="middle">n=3</text>
<text x="378.4" y="497.4" text-anchor="middle">n=5</text>
<text x="500.5" y="497.4" text-anchor="middle">n=8</text>
<text x="622.6" y="497.4" text-anchor="middle">n=12</text>
</g>
<text transform="translate(17.6 233.9) rotate(-90)" font-family="Liberation Sans" font-size="22.5" text-anchor="middle">Compressive strength (MPa)</text>
<rect x="160.7" y="-3.2" width="186.9" height="41.5" fill="none" stroke="#000" stroke-width="2.3"/>
<text font-family="Liberation Sans" font-size="28" x="166.6" y="26.6">f<tspan font-size="19" dy="7">ck</tspan><tspan dy="-7" x="198.6">35 MPa, all</tspan></text>
<text font-family="Liberation Sans" font-size="27" x="179.2" y="89.7">RHT</text>
</g>
<path fill="#4a4a4a" d="M147.4 1331.4h6.2v6.2h-6.2zM135.2 1405h6.2v6.2h-6.2zM157.4 1278.8h6.2v6.2h-6.2zM138 1259.8h6.2v6.2h-6.2zM133.2 1386h6.2v6.2h-6.2zM141.1 1324.7h6.2v6.2h-6.2zM131.9 1496.4h6.2v6.2h-6.2zM145.2 1296.7h6.2v6.2h-6.2zM142.5 1248.9h6.2v6.2h-6.2zM152.6 1276.7h6.2v6.2h-6.2zM134.6 1217h6.2v6.2h-6.2zM133.3 1287.9h6.2v6.2h-6.2zM142.7 1293.1h6.2v6.2h-6.2zM133.3 1129.1h6.2v6.2h-6.2zM135.5 1364.4h6.2v6.2h-6.2zM135.6 1223h6.2v6.2h-6.2zM148.4 1346.3h6.2v6.2h-6.2zM151.9 1363.5h6.2v6.2h-6.2zM138.6 1221.9h6.2v6.2h-6.2zM134.7 1228.8h6.2v6.2h-6.2zM143.2 1339.5h6.2v6.2h-6.2zM140.6 1353.5h6.2v6.2h-6.2zM151.8 1348h6.2v6.2h-6.2zM144.1 1244h6.2v6.2h-6.2zM134 1305.4h6.2v6.2h-6.2zM138.4 1192.7h6.2v6.2h-6.2zM158 1305.6h6.2v6.2h-6.2zM135.2 1199.8h6.2v6.2h-6.2zM146.4 1305.5h6.2v6.2h-6.2zM147 1351.3h6.2v6.2h-6.2zM134.1 1316.6h6.2v6.2h-6.2zM134.9 1190.7h6.2v6.2h-6.2zM142.9 1365.4h6.2v6.2h-6.2zM138.5 1255.2h6.2v6.2h-6.2zM133.4 1122.9h6.2v6.2h-6.2zM136.5 1352.8h6.2v6.2h-6.2zM142 1296.8h6.2v6.2h-6.2zM141.6 1347.7h6.2v6.2h-6.2zM135.3 1183.4h6.2v6.2h-6.2zM134.3 1137.3h6.2v6.2h-6.2zM141.6 1264.3h6.2v6.2h-6.2zM139.5 1433.8h6.2v6.2h-6.2zM141.7 1418.5h6.2v6.2h-6.2zM133.2 1155.3h6.2v6.2h-6.2zM140.4 1375.1h6.2v6.2h-6.2zM135.9 1432.4h6.2v6.2h-6.2zM134.4 1309.7h6.2v6.2h-6.2zM136.6 1335.5h6.2v6.2h-6.2zM142.3 1411.8h6.2v6.2h-6.2zM134.1 1214.2h6.2v6.2h-6.2zM133.5 1446.3h6.2v6.2h-6.2zM134.3 1376.8h6.2v6.2h-6.2zM154.4 1283.8h6.2v6.2h-6.2zM134.2 1357h6.2v6.2h-6.2zM136.6 1429.4h6.2v6.2h-6.2zM144.7 1324.9h6.2v6.2h-6.2zM145.4 1281.7h6.2v6.2h-6.2zM138.2 1407.8h6.2v6.2h-6.2zM134.5 1272h6.2v6.2h-6.2zM157.5 1286.2h6.2v6.2h-6.2zM145.8 1334h6.2v6.2h-6.2zM136.6 1400.5h6.2v6.2h-6.2zM141.4 1285.5h6.2v6.2h-6.2zM139.7 1335.2h6.2v6.2h-6.2zM137.1 1358.7h6.2v6.2h-6.2zM133.3 1132h6.2v6.2h-6.2zM140.8 1414.2h6.2v6.2h-6.2zM144.3 1300.3h6.2v6.2h-6.2zM148.2 1286.2h6.2v6.2h-6.2zM134.2 1372.3h6.2v6.2h-6.2zM134.1 1295.6h6.2v6.2h-6.2zM147.7 1365.6h6.2v6.2h-6.2zM146.5 1360.2h6.2v6.2h-6.2zM147.2 1374.1h6.2v6.2h-6.2zM141 1320.7h6.2v6.2h-6.2zM142.5 1261h6.2v6.2h-6.2zM138.3 1313h6.2v6.2h-6.2zM145.9 1367.9h6.2v6.2h-6.2zM139 1216.1h6.2v6.2h-6.2zM145.9 1276.2h6.2v6.2h-6.2zM152 1359.3h6.2v6.2h-6.2zM148.2 1337.7h6.2v6.2h-6.2zM140.9 1423.8h6.2v6.2h-6.2zM143.8 1279h6.2v6.2h-6.2zM140.8 1341.7h6.2v6.2h-6.2zM136.8 1437.6h6.2v6.2h-6.2zM147.2 1252.4h6.2v6.2h-6.2zM141.9 1225.8h6.2v6.2h-6.2zM145.4 1322.2h6.2v6.2h-6.2zM151.7 1317.8h6.2v6.2h-6.2zM154.1 1297.9h6.2v6.2h-6.2zM143.8 1336.4h6.2v6.2h-6.2zM151.6 1285.5h6.2v6.2h-6.2zM145.4 1268.7h6.2v6.2h-6.2zM142.7 1207.7h6.2v6.2h-6.2zM134.5 1260.1h6.2v6.2h-6.2zM133.3 1263.2h6.2v6.2h-6.2zM134.3 1233.7h6.2v6.2h-6.2zM139.6 1198.1h6.2v6.2h-6.2zM139.4 1328.3h6.2v6.2h-6.2zM148.4 1326.9h6.2v6.2h-6.2zM149.6 1291.2h6.2v6.2h-6.2zM133.5 1351.1h6.2v6.2h-6.2zM135.3 1178.2h6.2v6.2h-6.2zM133.1 1253.6h6.2v6.2h-6.2zM141.3 1398.9h6.2v6.2h-6.2zM133.4 1394.6h6.2v6.2h-6.2zM136.5 1367.6h6.2v6.2h-6.2zM149.9 1281.2h6.2v6.2h-6.2zM132.9 1476.9h6.2v6.2h-6.2zM146.2 1392.1h6.2v6.2h-6.2zM135.2 1245.1h6.2v6.2h-6.2zM136.9 1284.6h6.2v6.2h-6.2zM141.9 1317.3h6.2v6.2h-6.2zM142.8 1311.6h6.2v6.2h-6.2zM144 1351.3h6.2v6.2h-6.2zM141.7 1229.6h6.2v6.2h-6.2zM134.7 1248.1h6.2v6.2h-6.2zM137.5 1417.1h6.2v6.2h-6.2zM144.3 1307.3h6.2v6.2h-6.2zM151.6 1325.7h6.2v6.2h-6.2zM151.2 1295.4h6.2v6.2h-6.2zM146.2 1265.5h6.2v6.2h-6.2zM141.1 1204.8h6.2v6.2h-6.2zM142.3 1387.3h6.2v6.2h-6.2zM139 1182.6h6.2v6.2h-6.2zM139.9 1385.5h6.2v6.2h-6.2zM137.1 1361.8h6.2v6.2h-6.2zM134.7 1417.1h6.2v6.2h-6.2zM145.6 1318h6.2v6.2h-6.2zM141.8 1368.9h6.2v6.2h-6.2zM143.7 1382.8h6.2v6.2h-6.2zM144.5 1363.1h6.2v6.2h-6.2zM138.4 1209.2h6.2v6.2h-6.2zM154.7 1300.7h6.2v6.2h-6.2zM137.4 1275.3h6.2v6.2h-6.2zM135.4 1281.8h6.2v6.2h-6.2zM138.2 1174.1h6.2v6.2h-6.2zM139.1 1280.6h6.2v6.2h-6.2zM140.2 1366.5h6.2v6.2h-6.2zM137.6 1425.1h6.2v6.2h-6.2zM134.7 1343.3h6.2v6.2h-6.2zM144.6 1247h6.2v6.2h-6.2zM133.4 1340.8h6.2v6.2h-6.2zM135 1412.4h6.2v6.2h-6.2zM147.1 1394.8h6.2v6.2h-6.2zM143.6 1345.8h6.2v6.2h-6.2zM138.2 1381.2h6.2v6.2h-6.2zM133.2 1203.5h6.2v6.2h-6.2zM138.5 1244.7h6.2v6.2h-6.2zM145.8 1260.8h6.2v6.2h-6.2zM137 1205.1h6.2v6.2h-6.2zM134.9 1321.1h6.2v6.2h-6.2zM139.6 1189h6.2v6.2h-6.2zM149.4 1307.9h6.2v6.2h-6.2zM144.4 1285.9h6.2v6.2h-6.2zM138.9 1439.8h6.2v6.2h-6.2zM138.2 1396.4h6.2v6.2h-6.2zM136.1 1384.8h6.2v6.2h-6.2zM133.5 1145.8h6.2v6.2h-6.2zM140.9 1360.8h6.2v6.2h-6.2zM145.8 1389.1h6.2v6.2h-6.2zM139.6 1239.1h6.2v6.2h-6.2zM137.8 1414h6.2v6.2h-6.2zM141.4 1241.4h6.2v6.2h-6.2zM145.1 1328.2h6.2v6.2h-6.2zM152.3 1307.4h6.2v6.2h-6.2zM136.9 1442.4h6.2v6.2h-6.2zM138.6 1345.7h6.2v6.2h-6.2zM146.6 1348.5h6.2v6.2h-6.2zM135.8 1302.2h6.2v6.2h-6.2zM139.6 1390h6.2v6.2h-6.2zM134.1 1348.1h6.2v6.2h-6.2zM146.9 1289.9h6.2v6.2h-6.2zM133.1 1409.3h6.2v6.2h-6.2zM150.3 1299.7h6.2v6.2h-6.2zM139.9 1332.1h6.2v6.2h-6.2zM145.5 1356.8h6.2v6.2h-6.2zM138.6 1202.7h6.2v6.2h-6.2zM139.8 1403h6.2v6.2h-6.2zM150.4 1369.4h6.2v6.2h-6.2zM133.7 1359.8h6.2v6.2h-6.2zM134 1186.3h6.2v6.2h-6.2zM136.6 1392.9h6.2v6.2h-6.2zM145.5 1378.6h6.2v6.2h-6.2zM140.4 1273h6.2v6.2h-6.2zM150.3 1352.9h6.2v6.2h-6.2zM136.1 1327.9h6.2v6.2h-6.2zM136.7 1389.9h6.2v6.2h-6.2zM133.8 1331.3h6.2v6.2h-6.2zM144.9 1371.8h6.2v6.2h-6.2zM133.5 1428.7h6.2v6.2h-6.2zM137.4 1212.3h6.2v6.2h-6.2zM137.3 1252h6.2v6.2h-6.2zM136.9 1288.3h6.2v6.2h-6.2zM154.9 1292.6h6.2v6.2h-6.2zM136.2 1324.3h6.2v6.2h-6.2zM143.4 1253.2h6.2v6.2h-6.2z"/>
<path fill="none" stroke="#E84848" stroke-width="1" d="M270.1 1487.9a2.9 2.9 0 1 0 5.8 0a2.9 2.9 0 1 0 -5.8 0M268.8 1453.2a2.9 2.9 0 1 0 5.8 0a2.9 2.9 0 1 0 -5.8 0M263.9 1484.9a2.9 2.9 0 1 0 5.8 0a2.9 2.9 0 1 0 -5.8 0M259.7 1471.5a2.9 2.9 0 1 0 5.8 0a2.9 2.9 0 1 0 -5.8 0M266.7 1474.9a2.9 2.9 0 1 0 5.8 0a2.9 2.9 0 1 0 -5.8 0M261 1497.8a2.9 2.9 0 1 0 5.8 0a2.9 2.9 0 1 0 -5.8 0M258.2 1426.2a2.9 2.9 0 1 0 5.8 0a2.9 2.9 0 1 0 -5.8 0M274.3 1454a2.9 2.9 0 1 0 5.8 0a2.9 2.9 0 1 0 -5.8 0M260.7 1443.3a2.9 2.9 0 1 0 5.8 0a2.9 2.9 0 1 0 -5.8 0M260.5 1483.1a2.9 2.9 0 1 0 5.8 0a2.9 2.9 0 1 0 -5.8 0M267.3 1439.1a2.9 2.9 0 1 0 5.8 0a2.9 2.9 0 1 0 -5.8 0M259.3 1491.2a2.9 2.9 0 1 0 5.8 0a2.9 2.9 0 1 0 -5.8 0M262.2 1435.5a2.9 2.9 0 1 0 5.8 0a2.9 2.9 0 1 0 -5.8 0M256.5 1488.4a2.9 2.9 0 1 0 5.8 0a2.9 2.9 0 1 0 -5.8 0M265.3 1462.1a2.9 2.9 0 1 0 5.8 0a2.9 2.9 0 1 0 -5.8 0M257.8 1438a2.9 2.9 0 1 0 5.8 0a2.9 2.9 0 1 0 -5.8 0M265.7 1478.3a2.9 2.9 0 1 0 5.8 0a2.9 2.9 0 1 0 -5.8 0M273.8 1492.7a2.9 2.9 0 1 0 5.8 0a2.9 2.9 0 1 0 -5.8 0M256.8 1500.2a2.9 2.9 0 1 0 5.8 0a2.9 2.9 0 1 0 -5.8 0M263.6 1463.5a2.9 2.9 0 1 0 5.8 0a2.9 2.9 0 1 0 -5.8 0M265.2 1467.7a2.9 2.9 0 1 0 5.8 0a2.9 2.9 0 1 0 -5.8 0M257.5 1407.8a2.9 2.9 0 1 0 5.8 0a2.9 2.9 0 1 0 -5.8 0M268.8 1503a2.9 2.9 0 1 0 5.8 0a2.9 2.9 0 1 0 -5.8 0M273.3 1488.8a2.9 2.9 0 1 0 5.8 0a2.9 2.9 0 1 0 -5.8 0M263.3 1476.2a2.9 2.9 0 1 0 5.8 0a2.9 2.9 0 1 0 -5.8 0M256.7 1485.4a2.9 2.9 0 1 0 5.8 0a2.9 2.9 0 1 0 -5.8 0M257.6 1452.4a2.9 2.9 0 1 0 5.8 0a2.9 2.9 0 1 0 -5.8 0M273.5 1461.3a2.9 2.9 0 1 0 5.8 0a2.9 2.9 0 1 0 -5.8 0M275.4 1472.2a2.9 2.9 0 1 0 5.8 0a2.9 2.9 0 1 0 -5.8 0M259.1 1433.9a2.9 2.9 0 1 0 5.8 0a2.9 2.9 0 1 0 -5.8 0M260.1 1369a2.9 2.9 0 1 0 5.8 0a2.9 2.9 0 1 0 -5.8 0M257.2 1423.9a2.9 2.9 0 1 0 5.8 0a2.9 2.9 0 1 0 -5.8 0M260.3 1509.7a2.9 2.9 0 1 0 5.8 0a2.9 2.9 0 1 0 -5.8 0M260.1 1448.4a2.9 2.9 0 1 0 5.8 0a2.9 2.9 0 1 0 -5.8 0M276.5 1462a2.9 2.9 0 1 0 5.8 0a2.9 2.9 0 1 0 -5.8 0M272.9 1496.8a2.9 2.9 0 1 0 5.8 0a2.9 2.9 0 1 0 -5.8 0M259.8 1385.9a2.9 2.9 0 1 0 5.8 0a2.9 2.9 0 1 0 -5.8 0M257.1 1363a2.9 2.9 0 1 0 5.8 0a2.9 2.9 0 1 0 -5.8 0M258 1449.1a2.9 2.9 0 1 0 5.8 0a2.9 2.9 0 1 0 -5.8 0M265.4 1429.7a2.9 2.9 0 1 0 5.8 0a2.9 2.9 0 1 0 -5.8 0M274.8 1481.7a2.9 2.9 0 1 0 5.8 0a2.9 2.9 0 1 0 -5.8 0M264.6 1503.3a2.9 2.9 0 1 0 5.8 0a2.9 2.9 0 1 0 -5.8 0M260.8 1457a2.9 2.9 0 1 0 5.8 0a2.9 2.9 0 1 0 -5.8 0M259.4 1486.7a2.9 2.9 0 1 0 5.8 0a2.9 2.9 0 1 0 -5.8 0M264.6 1441.1a2.9 2.9 0 1 0 5.8 0a2.9 2.9 0 1 0 -5.8 0M272.8 1451.9a2.9 2.9 0 1 0 5.8 0a2.9 2.9 0 1 0 -5.8 0M256.5 1378.9a2.9 2.9 0 1 0 5.8 0a2.9 2.9 0 1 0 -5.8 0M268.1 1476.7a2.9 2.9 0 1 0 5.8 0a2.9 2.9 0 1 0 -5.8 0M275.2 1457.9a2.9 2.9 0 1 0 5.8 0a2.9 2.9 0 1 0 -5.8 0M265.3 1491a2.9 2.9 0 1 0 5.8 0a2.9 2.9 0 1 0 -5.8 0M274 1500.2a2.9 2.9 0 1 0 5.8 0a2.9 2.9 0 1 0 -5.8 0M256.4 1445.8a2.9 2.9 0 1 0 5.8 0a2.9 2.9 0 1 0 -5.8 0M254.6 1534a2.9 2.9 0 1 0 5.8 0a2.9 2.9 0 1 0 -5.8 0M276.1 1452a2.9 2.9 0 1 0 5.8 0a2.9 2.9 0 1 0 -5.8 0M258.6 1459.8a2.9 2.9 0 1 0 5.8 0a2.9 2.9 0 1 0 -5.8 0M256.3 1506.5a2.9 2.9 0 1 0 5.8 0a2.9 2.9 0 1 0 -5.8 0M277 1449.9a2.9 2.9 0 1 0 5.8 0a2.9 2.9 0 1 0 -5.8 0M260.6 1473.6a2.9 2.9 0 1 0 5.8 0a2.9 2.9 0 1 0 -5.8 0M259.3 1375.9a2.9 2.9 0 1 0 5.8 0a2.9 2.9 0 1 0 -5.8 0M277.7 1464.6a2.9 2.9 0 1 0 5.8 0a2.9 2.9 0 1 0 -5.8 0M267.9 1450.6a2.9 2.9 0 1 0 5.8 0a2.9 2.9 0 1 0 -5.8 0M260.7 1479.9a2.9 2.9 0 1 0 5.8 0a2.9 2.9 0 1 0 -5.8 0M256.5 1443.2a2.9 2.9 0 1 0 5.8 0a2.9 2.9 0 1 0 -5.8 0M273.3 1477.6a2.9 2.9 0 1 0 5.8 0a2.9 2.9 0 1 0 -5.8 0M273.6 1449.9a2.9 2.9 0 1 0 5.8 0a2.9 2.9 0 1 0 -5.8 0M269.5 1468.5a2.9 2.9 0 1 0 5.8 0a2.9 2.9 0 1 0 -5.8 0M279.7 1455.2a2.9 2.9 0 1 0 5.8 0a2.9 2.9 0 1 0 -5.8 0M270.3 1477.2a2.9 2.9 0 1 0 5.8 0a2.9 2.9 0 1 0 -5.8 0M271.3 1494a2.9 2.9 0 1 0 5.8 0a2.9 2.9 0 1 0 -5.8 0M266.9 1485.3a2.9 2.9 0 1 0 5.8 0a2.9 2.9 0 1 0 -5.8 0M262.6 1439.8a2.9 2.9 0 1 0 5.8 0a2.9 2.9 0 1 0 -5.8 0M262.7 1489.3a2.9 2.9 0 1 0 5.8 0a2.9 2.9 0 1 0 -5.8 0M266.1 1465.6a2.9 2.9 0 1 0 5.8 0a2.9 2.9 0 1 0 -5.8 0M268.8 1456.5a2.9 2.9 0 1 0 5.8 0a2.9 2.9 0 1 0 -5.8 0M257.6 1428.6a2.9 2.9 0 1 0 5.8 0a2.9 2.9 0 1 0 -5.8 0M257.1 1347.8a2.9 2.9 0 1 0 5.8 0a2.9 2.9 0 1 0 -5.8 0M275.1 1468.7a2.9 2.9 0 1 0 5.8 0a2.9 2.9 0 1 0 -5.8 0M256.7 1381.8a2.9 2.9 0 1 0 5.8 0a2.9 2.9 0 1 0 -5.8 0M255.2 1508.5a2.9 2.9 0 1 0 5.8 0a2.9 2.9 0 1 0 -5.8 0M265.6 1415a2.9 2.9 0 1 0 5.8 0a2.9 2.9 0 1 0 -5.8 0M262.9 1471.1a2.9 2.9 0 1 0 5.8 0a2.9 2.9 0 1 0 -5.8 0M264.9 1450.8a2.9 2.9 0 1 0 5.8 0a2.9 2.9 0 1 0 -5.8 0M258.7 1478.7a2.9 2.9 0 1 0 5.8 0a2.9 2.9 0 1 0 -5.8 0M264.7 1453.3a2.9 2.9 0 1 0 5.8 0a2.9 2.9 0 1 0 -5.8 0M279.9 1452.2a2.9 2.9 0 1 0 5.8 0a2.9 2.9 0 1 0 -5.8 0M253.6 1370a2.9 2.9 0 1 0 5.8 0a2.9 2.9 0 1 0 -5.8 0M257.8 1457.7a2.9 2.9 0 1 0 5.8 0a2.9 2.9 0 1 0 -5.8 0M271.8 1483.8a2.9 2.9 0 1 0 5.8 0a2.9 2.9 0 1 0 -5.8 0M260.6 1438.8a2.9 2.9 0 1 0 5.8 0a2.9 2.9 0 1 0 -5.8 0M257.7 1389.1a2.9 2.9 0 1 0 5.8 0a2.9 2.9 0 1 0 -5.8 0M264.5 1435.7a2.9 2.9 0 1 0 5.8 0a2.9 2.9 0 1 0 -5.8 0M256.7 1476.1a2.9 2.9 0 1 0 5.8 0a2.9 2.9 0 1 0 -5.8 0M254.1 1347.4a2.9 2.9 0 1 0 5.8 0a2.9 2.9 0 1 0 -5.8 0M256.4 1463.7a2.9 2.9 0 1 0 5.8 0a2.9 2.9 0 1 0 -5.8 0M254.1 1355a2.9 2.9 0 1 0 5.8 0a2.9 2.9 0 1 0 -5.8 0M256.3 1471.9a2.9 2.9 0 1 0 5.8 0a2.9 2.9 0 1 0 -5.8 0M277.4 1456a2.9 2.9 0 1 0 5.8 0a2.9 2.9 0 1 0 -5.8 0M254.5 1289.6a2.9 2.9 0 1 0 5.8 0a2.9 2.9 0 1 0 -5.8 0M267.3 1460.8a2.9 2.9 0 1 0 5.8 0a2.9 2.9 0 1 0 -5.8 0M280 1459.4a2.9 2.9 0 1 0 5.8 0a2.9 2.9 0 1 0 -5.8 0M255.5 1448.3a2.9 2.9 0 1 0 5.8 0a2.9 2.9 0 1 0 -5.8 0M258.8 1494.7a2.9 2.9 0 1 0 5.8 0a2.9 2.9 0 1 0 -5.8 0M271.5 1463.6a2.9 2.9 0 1 0 5.8 0a2.9 2.9 0 1 0 -5.8 0M258.7 1503a2.9 2.9 0 1 0 5.8 0a2.9 2.9 0 1 0 -5.8 0M265.8 1422.9a2.9 2.9 0 1 0 5.8 0a2.9 2.9 0 1 0 -5.8 0M267 1495.7a2.9 2.9 0 1 0 5.8 0a2.9 2.9 0 1 0 -5.8 0M264.6 1425.3a2.9 2.9 0 1 0 5.8 0a2.9 2.9 0 1 0 -5.8 0M268.6 1465.9a2.9 2.9 0 1 0 5.8 0a2.9 2.9 0 1 0 -5.8 0M258.2 1468.3a2.9 2.9 0 1 0 5.8 0a2.9 2.9 0 1 0 -5.8 0M271.3 1446.8a2.9 2.9 0 1 0 5.8 0a2.9 2.9 0 1 0 -5.8 0M268 1481.2a2.9 2.9 0 1 0 5.8 0a2.9 2.9 0 1 0 -5.8 0M265 1497.6a2.9 2.9 0 1 0 5.8 0a2.9 2.9 0 1 0 -5.8 0M264.3 1432a2.9 2.9 0 1 0 5.8 0a2.9 2.9 0 1 0 -5.8 0M279.1 1472.8a2.9 2.9 0 1 0 5.8 0a2.9 2.9 0 1 0 -5.8 0M273.8 1456.1a2.9 2.9 0 1 0 5.8 0a2.9 2.9 0 1 0 -5.8 0M270.4 1450.6a2.9 2.9 0 1 0 5.8 0a2.9 2.9 0 1 0 -5.8 0M272.6 1486.1a2.9 2.9 0 1 0 5.8 0a2.9 2.9 0 1 0 -5.8 0M257.1 1440.7a2.9 2.9 0 1 0 5.8 0a2.9 2.9 0 1 0 -5.8 0M254.5 1336.5a2.9 2.9 0 1 0 5.8 0a2.9 2.9 0 1 0 -5.8 0M272.1 1468.8a2.9 2.9 0 1 0 5.8 0a2.9 2.9 0 1 0 -5.8 0M266.4 1432.9a2.9 2.9 0 1 0 5.8 0a2.9 2.9 0 1 0 -5.8 0M254.1 1544.5a2.9 2.9 0 1 0 5.8 0a2.9 2.9 0 1 0 -5.8 0M265.6 1455.6a2.9 2.9 0 1 0 5.8 0a2.9 2.9 0 1 0 -5.8 0M256 1497.4a2.9 2.9 0 1 0 5.8 0a2.9 2.9 0 1 0 -5.8 0M272.9 1465.4a2.9 2.9 0 1 0 5.8 0a2.9 2.9 0 1 0 -5.8 0M273.4 1471.2a2.9 2.9 0 1 0 5.8 0a2.9 2.9 0 1 0 -5.8 0M265.5 1448.4a2.9 2.9 0 1 0 5.8 0a2.9 2.9 0 1 0 -5.8 0M259.7 1364a2.9 2.9 0 1 0 5.8 0a2.9 2.9 0 1 0 -5.8 0M272 1458.3a2.9 2.9 0 1 0 5.8 0a2.9 2.9 0 1 0 -5.8 0M261.3 1460.7a2.9 2.9 0 1 0 5.8 0a2.9 2.9 0 1 0 -5.8 0M261.5 1450.3a2.9 2.9 0 1 0 5.8 0a2.9 2.9 0 1 0 -5.8 0M256.9 1400a2.9 2.9 0 1 0 5.8 0a2.9 2.9 0 1 0 -5.8 0M261 1453.5a2.9 2.9 0 1 0 5.8 0a2.9 2.9 0 1 0 -5.8 0M255.2 1387.5a2.9 2.9 0 1 0 5.8 0a2.9 2.9 0 1 0 -5.8 0M263.8 1428a2.9 2.9 0 1 0 5.8 0a2.9 2.9 0 1 0 -5.8 0M268.9 1494.4a2.9 2.9 0 1 0 5.8 0a2.9 2.9 0 1 0 -5.8 0M267.7 1499.5a2.9 2.9 0 1 0 5.8 0a2.9 2.9 0 1 0 -5.8 0M275.1 1446.6a2.9 2.9 0 1 0 5.8 0a2.9 2.9 0 1 0 -5.8 0M263.4 1479.8a2.9 2.9 0 1 0 5.8 0a2.9 2.9 0 1 0 -5.8 0M260 1423a2.9 2.9 0 1 0 5.8 0a2.9 2.9 0 1 0 -5.8 0M266.3 1472.2a2.9 2.9 0 1 0 5.8 0a2.9 2.9 0 1 0 -5.8 0M270.4 1498a2.9 2.9 0 1 0 5.8 0a2.9 2.9 0 1 0 -5.8 0M265.3 1500.1a2.9 2.9 0 1 0 5.8 0a2.9 2.9 0 1 0 -5.8 0M278.2 1468.5a2.9 2.9 0 1 0 5.8 0a2.9 2.9 0 1 0 -5.8 0"/>
<path fill="none" stroke="#2F70D4" stroke-width="1" d="M388.7 1418.5l3.7 6h-7.4zM382.3 1475.8l3.7 6h-7.4zM394.3 1448.4l3.7 6h-7.4zM392.7 1442.5l3.7 6h-7.4zM397 1491.9l3.7 6h-7.4zM380.2 1360.4l3.7 6h-7.4zM380.1 1481.1l3.7 6h-7.4zM395 1480.1l3.7 6h-7.4zM401.3 1482.5l3.7 6h-7.4zM392.8 1493.7l3.7 6h-7.4zM386.5 1436.8l3.7 6h-7.4zM386.6 1444.2l3.7 6h-7.4zM384.1 1501.9l3.7 6h-7.4zM382.5 1433.6l3.7 6h-7.4zM398.8 1489.5l3.7 6h-7.4zM395.4 1474.2l3.7 6h-7.4zM398.3 1469.4l3.7 6h-7.4zM397.5 1446.4l3.7 6h-7.4zM388.3 1423l3.7 6h-7.4zM390.5 1463.4l3.7 6h-7.4zM395.3 1443.1l3.7 6h-7.4zM402.4 1450.7l3.7 6h-7.4zM394 1469.9l3.7 6h-7.4zM384 1469.9l3.7 6h-7.4zM400.1 1475.1l3.7 6h-7.4zM380.3 1439.7l3.7 6h-7.4zM388.3 1452l3.7 6h-7.4zM388.7 1456.1l3.7 6h-7.4zM393.9 1477.5l3.7 6h-7.4zM387.7 1429.3l3.7 6h-7.4zM406 1475.7l3.7 6h-7.4zM380.2 1442.8l3.7 6h-7.4zM382 1463l3.7 6h-7.4zM382.6 1483l3.7 6h-7.4zM389.2 1499.5l3.7 6h-7.4zM387 1433.4l3.7 6h-7.4zM387.6 1447.6l3.7 6h-7.4zM389.6 1495.6l3.7 6h-7.4zM400.3 1502.4l3.7 6h-7.4zM380.1 1417l3.7 6h-7.4zM392 1504l3.7 6h-7.4zM382.6 1427l3.7 6h-7.4zM380.5 1529.4l3.7 6h-7.4zM379.5 1352.9l3.7 6h-7.4zM383.6 1466.2l3.7 6h-7.4zM380.3 1421.4l3.7 6h-7.4zM386.8 1475.1l3.7 6h-7.4zM402.2 1445.6l3.7 6h-7.4zM382.7 1505.4l3.7 6h-7.4zM386.7 1500.1l3.7 6h-7.4zM398.3 1482.9l3.7 6h-7.4zM380 1506.3l3.7 6h-7.4zM385.1 1459.5l3.7 6h-7.4zM379.5 1387.2l3.7 6h-7.4zM387.6 1465.7l3.7 6h-7.4zM380.6 1424.7l3.7 6h-7.4zM387.1 1458l3.7 6h-7.4zM399.7 1486.4l3.7 6h-7.4zM388.9 1491.8l3.7 6h-7.4zM382.1 1450.6l3.7 6h-7.4zM387.2 1487.2l3.7 6h-7.4zM380.7 1494l3.7 6h-7.4zM385.5 1419.6l3.7 6h-7.4zM385.4 1482.1l3.7 6h-7.4zM390.5 1478.6l3.7 6h-7.4zM381.3 1503.3l3.7 6h-7.4zM406.2 1490.3l3.7 6h-7.4zM391.5 1488.9l3.7 6h-7.4zM395.7 1486.6l3.7 6h-7.4zM398.6 1452.4l3.7 6h-7.4zM395.8 1463.5l3.7 6h-7.4zM379.5 1378.9l3.7 6h-7.4zM379.5 1376l3.7 6h-7.4zM397.2 1498.9l3.7 6h-7.4zM390 1439.1l3.7 6h-7.4zM384.1 1495.9l3.7 6h-7.4zM380.1 1461.5l3.7 6h-7.4zM383.3 1457.4l3.7 6h-7.4zM392 1474.3l3.7 6h-7.4zM401.2 1454.4l3.7 6h-7.4zM394.7 1461.3l3.7 6h-7.4zM393.6 1496.3l3.7 6h-7.4zM398.1 1501.3l3.7 6h-7.4zM405.7 1480l3.7 6h-7.4zM387.1 1426.3l3.7 6h-7.4zM388.4 1503.8l3.7 6h-7.4zM384.3 1438.6l3.7 6h-7.4zM401.9 1491.5l3.7 6h-7.4zM394 1489.6l3.7 6h-7.4zM402.3 1498.5l3.7 6h-7.4zM398.3 1449.8l3.7 6h-7.4zM395.6 1494.3l3.7 6h-7.4zM400 1447.9l3.7 6h-7.4zM397.1 1459.3l3.7 6h-7.4zM385.4 1455.9l3.7 6h-7.4zM387 1440l3.7 6h-7.4zM399.8 1456.9l3.7 6h-7.4zM390.1 1469.8l3.7 6h-7.4zM402 1477.5l3.7 6h-7.4zM390.6 1446.8l3.7 6h-7.4zM384.8 1488.8l3.7 6h-7.4zM380 1541.9l3.7 6h-7.4zM391.3 1497.6l3.7 6h-7.4zM404.9 1494.7l3.7 6h-7.4zM381.2 1467.6l3.7 6h-7.4zM380.2 1456.7l3.7 6h-7.4zM403.7 1485.7l3.7 6h-7.4zM382.6 1444.3l3.7 6h-7.4zM406.4 1486.7l3.7 6h-7.4zM384.5 1422.2l3.7 6h-7.4zM403 1473.6l3.7 6h-7.4zM386 1451l3.7 6h-7.4zM392.3 1450.6l3.7 6h-7.4zM380.9 1499.8l3.7 6h-7.4zM379.9 1484.9l3.7 6h-7.4zM402.4 1460.6l3.7 6h-7.4zM395.2 1501.3l3.7 6h-7.4zM400.3 1466.4l3.7 6h-7.4zM390.7 1459.5l3.7 6h-7.4zM389.6 1485.3l3.7 6h-7.4zM382.1 1488l3.7 6h-7.4zM389.8 1482.1l3.7 6h-7.4z"/>
<path fill="none" stroke="#3CAA6E" stroke-width="1" d="M508.5 1451.7l3.7 -6.2h-7.4zM525.2 1457.2l3.7 -6.2h-7.4zM505.2 1480.5l3.7 -6.2h-7.4zM504.5 1465.8l3.7 -6.2h-7.4zM503.2 1436.4l3.7 -6.2h-7.4zM515.4 1484.2l3.7 -6.2h-7.4zM526.5 1484.6l3.7 -6.2h-7.4zM518.6 1480.5l3.7 -6.2h-7.4zM509.6 1486l3.7 -6.2h-7.4zM502.4 1403.7l3.7 -6.2h-7.4zM502.2 1409.5l3.7 -6.2h-7.4zM508.4 1500.5l3.7 -6.2h-7.4zM502.8 1453.5l3.7 -6.2h-7.4zM501.6 1382.7l3.7 -6.2h-7.4zM523 1452.3l3.7 -6.2h-7.4zM507.9 1475.4l3.7 -6.2h-7.4zM520.1 1456.9l3.7 -6.2h-7.4zM518.8 1458.7l3.7 -6.2h-7.4zM507.3 1435.9l3.7 -6.2h-7.4zM502.1 1478.7l3.7 -6.2h-7.4zM508.2 1472.1l3.7 -6.2h-7.4zM526.2 1468.4l3.7 -6.2h-7.4zM520.6 1453.7l3.7 -6.2h-7.4zM504 1446.3l3.7 -6.2h-7.4zM502.4 1461.7l3.7 -6.2h-7.4zM526.9 1471.5l3.7 -6.2h-7.4zM522 1487l3.7 -6.2h-7.4zM502.5 1430.8l3.7 -6.2h-7.4zM508.2 1498.7l3.7 -6.2h-7.4zM524.1 1469.3l3.7 -6.2h-7.4zM505.5 1474.1l3.7 -6.2h-7.4zM513.9 1477.6l3.7 -6.2h-7.4zM526.5 1487.3l3.7 -6.2h-7.4zM525.2 1460.5l3.7 -6.2h-7.4zM502.3 1502.9l3.7 -6.2h-7.4zM506.3 1504.3l3.7 -6.2h-7.4zM508.8 1482.6l3.7 -6.2h-7.4zM509.3 1473.7l3.7 -6.2h-7.4zM502.7 1438.3l3.7 -6.2h-7.4zM523.4 1459.7l3.7 -6.2h-7.4zM508.8 1441.4l3.7 -6.2h-7.4zM504.9 1497l3.7 -6.2h-7.4zM502.7 1428.8l3.7 -6.2h-7.4zM507.3 1470.5l3.7 -6.2h-7.4zM528.3 1454.3l3.7 -6.2h-7.4zM515.9 1460.6l3.7 -6.2h-7.4zM505.9 1457.4l3.7 -6.2h-7.4zM505.7 1441l3.7 -6.2h-7.4zM507.1 1444.4l3.7 -6.2h-7.4zM525.8 1477.5l3.7 -6.2h-7.4zM504.1 1470.9l3.7 -6.2h-7.4zM506.8 1477.2l3.7 -6.2h-7.4zM525.5 1463.2l3.7 -6.2h-7.4zM505.3 1418.9l3.7 -6.2h-7.4zM518.8 1474.5l3.7 -6.2h-7.4zM502.9 1418.8l3.7 -6.2h-7.4zM525.8 1453.8l3.7 -6.2h-7.4zM523 1457.6l3.7 -6.2h-7.4zM510.5 1471.6l3.7 -6.2h-7.4zM504 1458l3.7 -6.2h-7.4zM506.1 1482.8l3.7 -6.2h-7.4zM521.2 1477.4l3.7 -6.2h-7.4zM506.8 1463l3.7 -6.2h-7.4zM515.2 1470.2l3.7 -6.2h-7.4zM504.6 1435.2l3.7 -6.2h-7.4zM505.4 1423.5l3.7 -6.2h-7.4zM510.1 1494.2l3.7 -6.2h-7.4zM518.5 1486.6l3.7 -6.2h-7.4zM502.6 1488.6l3.7 -6.2h-7.4zM523.6 1478.3l3.7 -6.2h-7.4zM520 1482.4l3.7 -6.2h-7.4zM512.8 1484.1l3.7 -6.2h-7.4zM510.4 1448.4l3.7 -6.2h-7.4zM523.3 1454.7l3.7 -6.2h-7.4zM515.1 1449.8l3.7 -6.2h-7.4zM512.9 1464.3l3.7 -6.2h-7.4zM505.6 1430.2l3.7 -6.2h-7.4zM509.9 1477.5l3.7 -6.2h-7.4zM512.5 1450.7l3.7 -6.2h-7.4zM512 1511.7l3.7 -6.2h-7.4zM503.4 1463.3l3.7 -6.2h-7.4zM524.7 1466.6l3.7 -6.2h-7.4zM505.4 1502.2l3.7 -6.2h-7.4zM511.3 1473.2l3.7 -6.2h-7.4zM502.3 1405.6l3.7 -6.2h-7.4zM503.9 1493.3l3.7 -6.2h-7.4zM511.4 1486.5l3.7 -6.2h-7.4zM508.7 1469.2l3.7 -6.2h-7.4zM525.4 1481.1l3.7 -6.2h-7.4zM518.4 1455.8l3.7 -6.2h-7.4zM527.3 1474.9l3.7 -6.2h-7.4zM526.3 1464.8l3.7 -6.2h-7.4zM528.6 1472.5l3.7 -6.2h-7.4zM523 1485.2l3.7 -6.2h-7.4zM508 1503.7l3.7 -6.2h-7.4zM514.7 1481.2l3.7 -6.2h-7.4zM514.1 1452.4l3.7 -6.2h-7.4zM508.6 1496.7l3.7 -6.2h-7.4zM511.5 1480.8l3.7 -6.2h-7.4zM508.2 1491.3l3.7 -6.2h-7.4zM502.5 1459.9l3.7 -6.2h-7.4zM502 1413.4l3.7 -6.2h-7.4zM506.8 1496.4l3.7 -6.2h-7.4zM503.4 1449.1l3.7 -6.2h-7.4zM507.8 1426.7l3.7 -6.2h-7.4zM503.4 1508.7l3.7 -6.2h-7.4zM509.5 1455.1l3.7 -6.2h-7.4zM527.7 1476.8l3.7 -6.2h-7.4zM504.1 1415.2l3.7 -6.2h-7.4zM509.2 1428.6l3.7 -6.2h-7.4zM515.7 1474.9l3.7 -6.2h-7.4zM507.6 1431.3l3.7 -6.2h-7.4zM507.1 1465.9l3.7 -6.2h-7.4zM523.5 1481.2l3.7 -6.2h-7.4zM516 1478l3.7 -6.2h-7.4zM502.5 1407.4l3.7 -6.2h-7.4zM511.9 1461.7l3.7 -6.2h-7.4zM526.4 1451.8l3.7 -6.2h-7.4zM525.3 1475l3.7 -6.2h-7.4zM502.5 1466.9l3.7 -6.2h-7.4zM521.6 1474.9l3.7 -6.2h-7.4zM510.1 1424l3.7 -6.2h-7.4zM518.4 1483.8l3.7 -6.2h-7.4zM522 1466.3l3.7 -6.2h-7.4zM506 1489.6l3.7 -6.2h-7.4zM502.5 1442.3l3.7 -6.2h-7.4zM508.9 1418.3l3.7 -6.2h-7.4zM503.1 1440.3l3.7 -6.2h-7.4zM517.1 1466.7l3.7 -6.2h-7.4zM506.4 1433.6l3.7 -6.2h-7.4zM505.5 1416.9l3.7 -6.2h-7.4zM511.8 1468.6l3.7 -6.2h-7.4zM508 1460.8l3.7 -6.2h-7.4zM509.9 1463.7l3.7 -6.2h-7.4zM503.1 1472.8l3.7 -6.2h-7.4zM510.2 1489.6l3.7 -6.2h-7.4zM507.3 1488.3l3.7 -6.2h-7.4zM504.9 1443.6l3.7 -6.2h-7.4zM503.8 1451.9l3.7 -6.2h-7.4zM505.6 1451l3.7 -6.2h-7.4zM510.8 1459.9l3.7 -6.2h-7.4zM503.3 1500.6l3.7 -6.2h-7.4zM508.2 1424.7l3.7 -6.2h-7.4zM508 1479.7l3.7 -6.2h-7.4zM504.8 1491l3.7 -6.2h-7.4zM502.1 1447.3l3.7 -6.2h-7.4zM504.1 1427.7l3.7 -6.2h-7.4zM507.3 1439.5l3.7 -6.2h-7.4zM508 1421.6l3.7 -6.2h-7.4zM503.4 1505.5l3.7 -6.2h-7.4zM502.1 1416.3l3.7 -6.2h-7.4zM503.9 1425.5l3.7 -6.2h-7.4zM515.2 1455.2l3.7 -6.2h-7.4zM507.8 1446.5l3.7 -6.2h-7.4zM527 1460.8l3.7 -6.2h-7.4zM504.2 1476.1l3.7 -6.2h-7.4zM518.5 1453l3.7 -6.2h-7.4zM512.1 1490.3l3.7 -6.2h-7.4zM528.4 1466.2l3.7 -6.2h-7.4zM527.2 1457.3l3.7 -6.2h-7.4zM514.3 1467.9l3.7 -6.2h-7.4zM519.6 1461.5l3.7 -6.2h-7.4zM519.6 1469.2l3.7 -6.2h-7.4zM510 1443.9l3.7 -6.2h-7.4zM516 1453.6l3.7 -6.2h-7.4zM502.7 1433.8l3.7 -6.2h-7.4zM527.2 1480l3.7 -6.2h-7.4zM502.3 1496.6l3.7 -6.2h-7.4zM503.1 1421.4l3.7 -6.2h-7.4zM514.1 1457.8l3.7 -6.2h-7.4zM514.5 1497.7l3.7 -6.2h-7.4zM511.6 1457.7l3.7 -6.2h-7.4zM507.3 1453.9l3.7 -6.2h-7.4zM510.5 1439.6l3.7 -6.2h-7.4zM505.8 1484.7l3.7 -6.2h-7.4zM522.6 1463.6l3.7 -6.2h-7.4zM519.4 1478.7l3.7 -6.2h-7.4zM517.2 1470.5l3.7 -6.2h-7.4zM505.2 1510.5l3.7 -6.2h-7.4zM504.1 1456l3.7 -6.2h-7.4zM504.1 1469.1l3.7 -6.2h-7.4zM519.1 1466.4l3.7 -6.2h-7.4zM510.6 1496l3.7 -6.2h-7.4zM505 1507.8l3.7 -6.2h-7.4zM503.4 1510.6l3.7 -6.2h-7.4zM502.2 1492.9l3.7 -6.2h-7.4zM509.9 1461.9l3.7 -6.2h-7.4zM514.1 1473l3.7 -6.2h-7.4zM521.7 1472.6l3.7 -6.2h-7.4z"/>
<path fill="none" stroke="#B478DC" stroke-width="1" d="M625.5 1424.2l4.6 4.6l-4.6 4.6l-4.6 -4.6zM645.4 1479.1l4.6 4.6l-4.6 4.6l-4.6 -4.6zM645.1 1457.9l4.6 4.6l-4.6 4.6l-4.6 -4.6zM631.1 1490.8l4.6 4.6l-4.6 4.6l-4.6 -4.6zM629.7 1457.7l4.6 4.6l-4.6 4.6l-4.6 -4.6zM638 1466.4l4.6 4.6l-4.6 4.6l-4.6 -4.6zM642.2 1455.9l4.6 4.6l-4.6 4.6l-4.6 -4.6zM650.4 1471.5l4.6 4.6l-4.6 4.6l-4.6 -4.6zM629.8 1475.7l4.6 4.6l-4.6 4.6l-4.6 -4.6zM632.2 1462.1l4.6 4.6l-4.6 4.6l-4.6 -4.6zM635.2 1507l4.6 4.6l-4.6 4.6l-4.6 -4.6zM627.7 1474.6l4.6 4.6l-4.6 4.6l-4.6 -4.6zM630.3 1450.2l4.6 4.6l-4.6 4.6l-4.6 -4.6zM644.5 1443.1l4.6 4.6l-4.6 4.6l-4.6 -4.6zM646.7 1461.5l4.6 4.6l-4.6 4.6l-4.6 -4.6zM632.6 1483.4l4.6 4.6l-4.6 4.6l-4.6 -4.6zM632.9 1478.2l4.6 4.6l-4.6 4.6l-4.6 -4.6zM628.7 1452.6l4.6 4.6l-4.6 4.6l-4.6 -4.6zM625.8 1440.6l4.6 4.6l-4.6 4.6l-4.6 -4.6zM633.6 1492.9l4.6 4.6l-4.6 4.6l-4.6 -4.6zM638.3 1484.5l4.6 4.6l-4.6 4.6l-4.6 -4.6zM628 1480.5l4.6 4.6l-4.6 4.6l-4.6 -4.6zM636.3 1500.5l4.6 4.6l-4.6 4.6l-4.6 -4.6zM635.8 1456.1l4.6 4.6l-4.6 4.6l-4.6 -4.6zM630.5 1494.6l4.6 4.6l-4.6 4.6l-4.6 -4.6zM632.8 1474.8l4.6 4.6l-4.6 4.6l-4.6 -4.6zM628 1471.1l4.6 4.6l-4.6 4.6l-4.6 -4.6zM647.8 1477.5l4.6 4.6l-4.6 4.6l-4.6 -4.6zM635 1469.8l4.6 4.6l-4.6 4.6l-4.6 -4.6zM627.5 1505.7l4.6 4.6l-4.6 4.6l-4.6 -4.6zM625.8 1418.3l4.6 4.6l-4.6 4.6l-4.6 -4.6zM636.7 1463.2l4.6 4.6l-4.6 4.6l-4.6 -4.6zM650 1469.1l4.6 4.6l-4.6 4.6l-4.6 -4.6zM649.5 1458.2l4.6 4.6l-4.6 4.6l-4.6 -4.6zM642.9 1467.6l4.6 4.6l-4.6 4.6l-4.6 -4.6zM631.6 1488.4l4.6 4.6l-4.6 4.6l-4.6 -4.6zM625.8 1463.4l4.6 4.6l-4.6 4.6l-4.6 -4.6zM627.7 1466.7l4.6 4.6l-4.6 4.6l-4.6 -4.6zM640 1465.4l4.6 4.6l-4.6 4.6l-4.6 -4.6zM633.3 1498.2l4.6 4.6l-4.6 4.6l-4.6 -4.6zM649.2 1463.9l4.6 4.6l-4.6 4.6l-4.6 -4.6zM643.8 1452.9l4.6 4.6l-4.6 4.6l-4.6 -4.6zM634.6 1445.9l4.6 4.6l-4.6 4.6l-4.6 -4.6zM641.3 1461.9l4.6 4.6l-4.6 4.6l-4.6 -4.6zM630.7 1482.2l4.6 4.6l-4.6 4.6l-4.6 -4.6zM625.7 1500.7l4.6 4.6l-4.6 4.6l-4.6 -4.6zM625.4 1491.1l4.6 4.6l-4.6 4.6l-4.6 -4.6zM635.8 1439.1l4.6 4.6l-4.6 4.6l-4.6 -4.6zM627.6 1442.4l4.6 4.6l-4.6 4.6l-4.6 -4.6zM627.1 1457l4.6 4.6l-4.6 4.6l-4.6 -4.6zM635.8 1498.1l4.6 4.6l-4.6 4.6l-4.6 -4.6zM639.8 1456.3l4.6 4.6l-4.6 4.6l-4.6 -4.6zM625.6 1443.6l4.6 4.6l-4.6 4.6l-4.6 -4.6zM631.8 1467.3l4.6 4.6l-4.6 4.6l-4.6 -4.6zM629.2 1444.2l4.6 4.6l-4.6 4.6l-4.6 -4.6zM648.3 1466l4.6 4.6l-4.6 4.6l-4.6 -4.6zM648.1 1456.4l4.6 4.6l-4.6 4.6l-4.6 -4.6zM633.7 1501l4.6 4.6l-4.6 4.6l-4.6 -4.6zM634.2 1441.3l4.6 4.6l-4.6 4.6l-4.6 -4.6zM641 1444.3l4.6 4.6l-4.6 4.6l-4.6 -4.6zM630.5 1478.4l4.6 4.6l-4.6 4.6l-4.6 -4.6zM645.8 1470l4.6 4.6l-4.6 4.6l-4.6 -4.6zM637.5 1479.2l4.6 4.6l-4.6 4.6l-4.6 -4.6zM630.4 1469.5l4.6 4.6l-4.6 4.6l-4.6 -4.6zM634.5 1490.1l4.6 4.6l-4.6 4.6l-4.6 -4.6zM625.6 1427.3l4.6 4.6l-4.6 4.6l-4.6 -4.6zM631.5 1452.5l4.6 4.6l-4.6 4.6l-4.6 -4.6zM630.8 1464.3l4.6 4.6l-4.6 4.6l-4.6 -4.6zM625.8 1455.3l4.6 4.6l-4.6 4.6l-4.6 -4.6zM640.7 1452l4.6 4.6l-4.6 4.6l-4.6 -4.6zM642.7 1450.7l4.6 4.6l-4.6 4.6l-4.6 -4.6zM631.3 1497l4.6 4.6l-4.6 4.6l-4.6 -4.6zM648.6 1474.2l4.6 4.6l-4.6 4.6l-4.6 -4.6zM640 1476.5l4.6 4.6l-4.6 4.6l-4.6 -4.6zM640 1487.4l4.6 4.6l-4.6 4.6l-4.6 -4.6zM643.6 1471.8l4.6 4.6l-4.6 4.6l-4.6 -4.6zM642 1480.2l4.6 4.6l-4.6 4.6l-4.6 -4.6zM644.3 1463.2l4.6 4.6l-4.6 4.6l-4.6 -4.6zM644.6 1446.6l4.6 4.6l-4.6 4.6l-4.6 -4.6zM645.6 1449.5l4.6 4.6l-4.6 4.6l-4.6 -4.6zM628.5 1491.5l4.6 4.6l-4.6 4.6l-4.6 -4.6zM625.3 1437l4.6 4.6l-4.6 4.6l-4.6 -4.6zM650.7 1461.3l4.6 4.6l-4.6 4.6l-4.6 -4.6zM639.2 1493.7l4.6 4.6l-4.6 4.6l-4.6 -4.6zM639.6 1506l4.6 4.6l-4.6 4.6l-4.6 -4.6zM638.7 1459.3l4.6 4.6l-4.6 4.6l-4.6 -4.6zM634.7 1460.4l4.6 4.6l-4.6 4.6l-4.6 -4.6zM626.5 1451.4l4.6 4.6l-4.6 4.6l-4.6 -4.6zM641.2 1484.8l4.6 4.6l-4.6 4.6l-4.6 -4.6zM626.1 1461.1l4.6 4.6l-4.6 4.6l-4.6 -4.6zM625.9 1497.6l4.6 4.6l-4.6 4.6l-4.6 -4.6zM626.1 1431.4l4.6 4.6l-4.6 4.6l-4.6 -4.6zM629.6 1473.2l4.6 4.6l-4.6 4.6l-4.6 -4.6zM625.8 1421l4.6 4.6l-4.6 4.6l-4.6 -4.6zM625.3 1506.2l4.6 4.6l-4.6 4.6l-4.6 -4.6zM641.1 1473l4.6 4.6l-4.6 4.6l-4.6 -4.6zM638.3 1503.7l4.6 4.6l-4.6 4.6l-4.6 -4.6zM634.5 1453.1l4.6 4.6l-4.6 4.6l-4.6 -4.6zM638.1 1440.9l4.6 4.6l-4.6 4.6l-4.6 -4.6zM635.2 1450l4.6 4.6l-4.6 4.6l-4.6 -4.6zM639.3 1463l4.6 4.6l-4.6 4.6l-4.6 -4.6zM632.9 1457.9l4.6 4.6l-4.6 4.6l-4.6 -4.6zM629.3 1499l4.6 4.6l-4.6 4.6l-4.6 -4.6zM641.9 1459.1l4.6 4.6l-4.6 4.6l-4.6 -4.6zM638.2 1468.7l4.6 4.6l-4.6 4.6l-4.6 -4.6zM626.7 1477.7l4.6 4.6l-4.6 4.6l-4.6 -4.6zM636.7 1473.2l4.6 4.6l-4.6 4.6l-4.6 -4.6zM637.7 1490.6l4.6 4.6l-4.6 4.6l-4.6 -4.6zM629.5 1486.4l4.6 4.6l-4.6 4.6l-4.6 -4.6zM643.2 1440.9l4.6 4.6l-4.6 4.6l-4.6 -4.6zM637.8 1454.9l4.6 4.6l-4.6 4.6l-4.6 -4.6zM639.4 1481.7l4.6 4.6l-4.6 4.6l-4.6 -4.6zM636.1 1443l4.6 4.6l-4.6 4.6l-4.6 -4.6zM639.6 1448.7l4.6 4.6l-4.6 4.6l-4.6 -4.6zM639.7 1500.2l4.6 4.6l-4.6 4.6l-4.6 -4.6zM633 1444.4l4.6 4.6l-4.6 4.6l-4.6 -4.6zM625.3 1433.6l4.6 4.6l-4.6 4.6l-4.6 -4.6z"/>
<g transform="translate(0 1112.05) scale(1 0.99998)">
<path fill="none" stroke="#5a5a5a" stroke-width="1.1" d="M135.6 456.2L135.6 450.5L135.7 444.8L135.7 439.1L135.8 433.4L135.9 427.7L136 422L136.1 416.3L136.3 410.6L136.5 404.9L136.7 399.2L136.9 393.5L137.2 387.8L137.5 382.1L137.9 376.4L138.3 370.7L138.8 365L139.3 359.3L139.9 353.6L140.5 347.9L141.2 342.2L142 336.5L142.8 330.8L143.7 325.1L144.6 319.4L145.6 313.7L146.7 308L147.8 302.3L149 296.6L150.1 290.9L151.3 285.2L152.5 279.5L153.7 273.7L154.9 268L156.1 262.3L157.2 256.6L158.3 250.9L159.3 245.2L160.2 239.5L161 233.8L161.7 228.1L162.3 222.4L162.8 216.7L163.1 211L163.3 205.3L163.4 199.6L163.3 193.9L163.1 188.2L162.7 182.5L162.3 176.8L161.6 171.1L160.9 165.4L160.1 159.7L159.2 154L158.2 148.3L157.1 142.6L155.9 136.9L154.8 131.2L153.6 125.5L152.4 119.8L151.2 114.1L150 108.4L148.8 102.7L147.7 97L146.6 91.2L145.5 85.5L144.5 79.8L143.6 74.1L142.7 68.4L141.9 62.7L141.1 57L140.4 51.3L139.8 45.6L139.2 39.9L138.7 34.2L138.2 28.5L137.8 22.8L137.5 17.1L137.2 11.4L136.9 5.7L136.7 0"/>
<path fill="none" stroke="#E84848" stroke-width="1.6" d="M257.9 465.9L258 462.6L258.1 459.4L258.3 456.1L258.5 452.8L258.7 449.5L258.9 446.2L259.2 442.9L259.5 439.6L259.9 436.3L260.3 433L260.8 429.7L261.3 426.4L262 423.1L262.6 419.8L263.4 416.5L264.2 413.2L265.1 410L266 406.7L267.1 403.4L268.2 400.1L269.3 396.8L270.5 393.5L271.7 390.2L273 386.9L274.3 383.6L275.6 380.3L276.8 377L278.1 373.7L279.3 370.4L280.4 367.1L281.4 363.9L282.4 360.6L283.3 357.3L284 354L284.6 350.7L285 347.4L285.3 344.1L285.5 340.8L285.5 337.5L285.3 334.2L285 330.9L284.5 327.6L283.9 324.3L283.1 321L282.3 317.8L281.3 314.5L280.2 311.2L279.1 307.9L277.9 304.6L276.6 301.3L275.3 298L274.1 294.7L272.8 291.4L271.5 288.1L270.3 284.8L269.1 281.5L268 278.2L266.9 274.9L265.9 271.6L264.9 268.4L264.1 265.1L263.2 261.8L262.5 258.5L261.8 255.2L261.2 251.9L260.7 248.6L260.2 245.3L259.8 242L259.5 238.7L259.1 235.4L258.9 232.1L258.6 228.8L258.4 225.5L258.3 222.3L258.1 219L258 215.7L257.9 212.4L257.8 209.1L257.8 205.8L257.7 202.5"/>
<path fill="none" stroke="#2F70D4" stroke-width="1.6" d="M379.8 456.8L379.8 454.3L379.9 451.9L379.9 449.5L380 447L380.1 444.6L380.3 442.1L380.4 439.7L380.6 437.2L380.8 434.8L381.1 432.4L381.4 429.9L381.7 427.5L382.2 425L382.6 422.6L383.2 420.2L383.8 417.7L384.5 415.3L385.2 412.8L386.1 410.4L387 407.9L388 405.5L389.1 403.1L390.2 400.6L391.4 398.2L392.7 395.7L394 393.3L395.3 390.9L396.6 388.4L398 386L399.3 383.5L400.6 381.1L401.8 378.6L403 376.2L404 373.8L405 371.3L405.8 368.9L406.5 366.4L407 364L407.4 361.6L407.6 359.1L407.6 356.7L407.4 354.2L407.1 351.8L406.6 349.3L405.9 346.9L405.1 344.5L404.2 342L403.2 339.6L402 337.1L400.8 334.7L399.5 332.3L398.2 329.8L396.9 327.4L395.5 324.9L394.2 322.5L392.9 320L391.6 317.6L390.4 315.2L389.3 312.7L388.2 310.3L387.2 307.8L386.2 305.4L385.4 302.9L384.6 300.5L383.9 298.1L383.3 295.6L382.7 293.2L382.2 290.7L381.8 288.3L381.5 285.9L381.1 283.4L380.9 281L380.6 278.5L380.4 276.1L380.3 273.6L380.1 271.2L380 268.8L379.9 266.3L379.9 263.9L379.8 261.4"/>
<path fill="none" stroke="#3CAA6E" stroke-width="1.6" d="M502 422.4L502 420.6L502.1 418.9L502.2 417.1L502.3 415.3L502.5 413.5L502.7 411.7L502.9 409.9L503.1 408.1L503.4 406.3L503.7 404.5L504.1 402.8L504.5 401L505 399.2L505.6 397.4L506.2 395.6L506.9 393.8L507.6 392L508.5 390.2L509.4 388.5L510.4 386.7L511.4 384.9L512.5 383.1L513.7 381.3L514.9 379.5L516.2 377.7L517.5 375.9L518.8 374.1L520.1 372.4L521.3 370.6L522.6 368.8L523.8 367L524.9 365.2L525.9 363.4L526.9 361.6L527.7 359.8L528.4 358L529 356.3L529.4 354.5L529.6 352.7L529.7 350.9L529.6 349.1L529.4 347.3L529 345.5L528.4 343.7L527.7 341.9L526.9 340.2L526 338.4L524.9 336.6L523.8 334.8L522.6 333L521.4 331.2L520.1 329.4L518.8 327.6L517.5 325.9L516.2 324.1L515 322.3L513.8 320.5L512.6 318.7L511.5 316.9L510.4 315.1L509.4 313.3L508.5 311.5L507.7 309.8L506.9 308L506.2 306.2L505.6 304.4L505 302.6L504.5 300.8L504.1 299L503.7 297.2L503.4 295.4L503.1 293.7L502.9 291.9L502.7 290.1L502.5 288.3L502.3 286.5L502.2 284.7L502.1 282.9L502 281.1L502 279.3"/>
<path fill="none" stroke="#B478DC" stroke-width="1.6" d="M624 418.6L624 417.1L624.1 415.7L624.2 414.2L624.3 412.8L624.4 411.3L624.5 409.9L624.7 408.5L624.9 407L625.2 405.6L625.5 404.1L625.8 402.7L626.2 401.3L626.6 399.8L627.1 398.4L627.7 396.9L628.4 395.5L629.1 394L629.9 392.6L630.8 391.2L631.8 389.7L632.8 388.3L633.9 386.8L635.1 385.4L636.3 384L637.6 382.5L638.9 381.1L640.3 379.6L641.6 378.2L642.9 376.7L644.2 375.3L645.5 373.9L646.7 372.4L647.8 371L648.8 369.5L649.7 368.1L650.4 366.6L651 365.2L651.4 363.8L651.7 362.3L651.8 360.9L651.7 359.4L651.4 358L651 356.6L650.4 355.1L649.7 353.7L648.8 352.2L647.8 350.8L646.7 349.3L645.5 347.9L644.2 346.5L642.9 345L641.6 343.6L640.3 342.1L638.9 340.7L637.6 339.3L636.3 337.8L635.1 336.4L633.9 334.9L632.8 333.5L631.8 332L630.8 330.6L629.9 329.2L629.1 327.7L628.4 326.3L627.7 324.8L627.1 323.4L626.6 322L626.2 320.5L625.8 319.1L625.5 317.6L625.2 316.2L624.9 314.7L624.7 313.3L624.5 311.9L624.4 310.4L624.3 309L624.2 307.5L624.1 306.1L624 304.6L624 303.2"/>
</g>
<g font-family="Liberation Sans" font-size="26" fill="#000" stroke="#fff" stroke-width="0.2">
<text transform="translate(218.8 1266) skewX(-15)" textLength="52.5" lengthAdjust="spacingAndGlyphs">COV</text>
<text transform="translate(218.9 1296.4) skewX(-15)" textLength="47.5" lengthAdjust="spacingAndGlyphs">0.34</text>
<text transform="translate(338.2 1296.4) skewX(-15)" textLength="47.5" lengthAdjust="spacingAndGlyphs">0.28</text>
<text transform="translate(466.4 1296.4) skewX(-15)" textLength="47.5" lengthAdjust="spacingAndGlyphs">0.20</text>
<text transform="translate(594.7 1296.4) skewX(-15)" textLength="47.5" lengthAdjust="spacingAndGlyphs">0.17</text>
</g>
</svg></body></html>
